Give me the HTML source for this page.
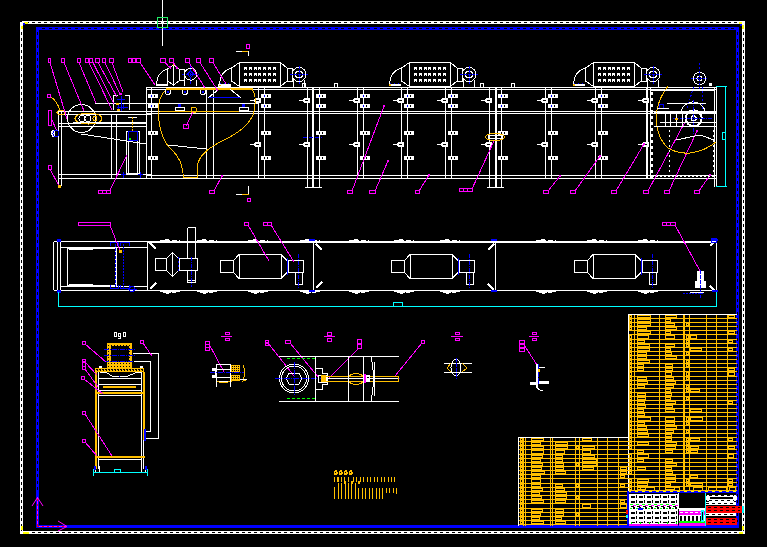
<!DOCTYPE html>
<html><head><meta charset="utf-8"><style>
html,body{margin:0;padding:0;background:#000;width:767px;height:547px;overflow:hidden}
svg{display:block}
</style></head><body>
<svg width="767" height="547" viewBox="0 0 767 547" shape-rendering="crispEdges" font-family="Liberation Sans, sans-serif">
<rect width="767" height="547" fill="#000"/>
<rect x="20" y="22" width="3" height="511" fill="#ffffff"/>
<rect x="22" y="21" width="723" height="3" fill="#ffffff"/>
<rect x="742" y="22" width="3" height="511" fill="#ffffff"/>
<rect x="20" y="531" width="725" height="3" fill="#ffffff"/>
<g stroke="#000" stroke-width="1" stroke-dasharray="3 3">
<line x1="21.5" y1="26" x2="21.5" y2="531" stroke="#000" stroke-width="1" />
<line x1="26" y1="22.5" x2="742" y2="22.5" stroke="#000" stroke-width="1" />
<line x1="743.5" y1="26" x2="743.5" y2="531" stroke="#000" stroke-width="1" />
<line x1="26" y1="532.5" x2="742" y2="532.5" stroke="#000" stroke-width="1" />
</g>
<rect x="36" y="27" width="3" height="500" fill="#0000ff"/>
<rect x="36" y="27" width="703" height="3" fill="#0000ff"/>
<rect x="736" y="27" width="3" height="500" fill="#0000ff"/>
<rect x="36" y="525" width="703" height="3" fill="#0000ff"/>
<g stroke="#000" stroke-width="1" stroke-dasharray="3 3.5">
<line x1="37.5" y1="32" x2="37.5" y2="494" stroke="#000" stroke-width="1" />
<line x1="42" y1="28.5" x2="734" y2="28.5" stroke="#000" stroke-width="1" />
<line x1="737.5" y1="32" x2="737.5" y2="522" stroke="#000" stroke-width="1" />
</g>
<rect x="21" y="26" width="2" height="3" fill="#ffff00"/>
<rect x="24" y="22" width="4" height="2" fill="#ffff00"/>
<rect x="23" y="23" width="2" height="2" fill="#0000ff"/>
<rect x="739" y="22" width="3" height="2" fill="#ffff00"/>
<rect x="742" y="25" width="2" height="4" fill="#ffff00"/>
<rect x="740" y="24" width="2" height="2" fill="#0000ff"/>
<rect x="21" y="526" width="2" height="4" fill="#ffff00"/>
<rect x="23" y="532" width="6" height="2" fill="#ffff00"/>
<rect x="742" y="526" width="2" height="4" fill="#ffff00"/>
<rect x="739" y="532" width="4" height="2" fill="#ffff00"/>
<line x1="37.5" y1="526" x2="37.5" y2="497" stroke="#ff00ff" stroke-width="1" />
<line x1="37.5" y1="526" x2="37.5" y2="497" stroke="#ff0000" stroke-width="1" stroke-dasharray="2 3"/>
<line x1="37" y1="526.5" x2="67" y2="526.5" stroke="#ff00ff" stroke-width="1" />
<line x1="37" y1="526.5" x2="67" y2="526.5" stroke="#ff0000" stroke-width="1" stroke-dasharray="2 3"/>
<g shape-rendering="auto">
<line x1="37.5" y1="497.5" x2="32" y2="506" stroke="#ff00ff" stroke-width="1" />
<line x1="37.5" y1="497.5" x2="43" y2="506" stroke="#ff00ff" stroke-width="1" />
<line x1="67" y1="526.5" x2="58" y2="521" stroke="#ff00ff" stroke-width="1" />
<line x1="67" y1="526.5" x2="58" y2="531" stroke="#ff00ff" stroke-width="1" />
</g>
<line x1="162.5" y1="0" x2="162.5" y2="46" stroke="#ffffff" stroke-width="1" />
<rect x="157.5" y="17.5" width="10" height="10" stroke="#22ee66" fill="none" stroke-width="1" />
<line x1="58" y1="111.5" x2="151" y2="111.5" stroke="#ffffff" stroke-width="1" />
<line x1="58" y1="114.5" x2="151" y2="114.5" stroke="#ffffff" stroke-width="1" />
<line x1="58" y1="123.5" x2="147" y2="123.5" stroke="#ffffff" stroke-width="1" />
<line x1="58" y1="126.5" x2="147" y2="126.5" stroke="#ffffff" stroke-width="1" />
<line x1="58" y1="174.5" x2="151" y2="174.5" stroke="#ffffff" stroke-width="1" />
<line x1="58" y1="178.5" x2="151" y2="178.5" stroke="#ffffff" stroke-width="1" />
<line x1="95" y1="103.5" x2="147" y2="103.5" stroke="#ffffff" stroke-width="1" />
<line x1="146" y1="87.5" x2="717" y2="87.5" stroke="#ffffff" stroke-width="1" />
<line x1="146" y1="89.5" x2="717" y2="89.5" stroke="#ffffff" stroke-width="1" />
<line x1="146" y1="111.5" x2="717" y2="111.5" stroke="#ffffff" stroke-width="1" />
<line x1="146" y1="113.5" x2="717" y2="113.5" stroke="#ffffff" stroke-width="1" />
<line x1="146" y1="175.5" x2="717" y2="175.5" stroke="#ffffff" stroke-width="1" />
<line x1="146" y1="178.5" x2="717" y2="178.5" stroke="#ffffff" stroke-width="1" />
<line x1="146" y1="103.5" x2="259" y2="103.5" stroke="#ffffff" stroke-width="1" />
<line x1="58.5" y1="111" x2="58.5" y2="186" stroke="#ffffff" stroke-width="1" />
<line x1="61.5" y1="111" x2="61.5" y2="186" stroke="#ffffff" stroke-width="1" />
<line x1="111.5" y1="114" x2="111.5" y2="179" stroke="#ffffff" stroke-width="1" />
<line x1="116.5" y1="114" x2="116.5" y2="179" stroke="#ffffff" stroke-width="1" />
<line x1="146.5" y1="87" x2="146.5" y2="179" stroke="#ffffff" stroke-width="1" />
<line x1="151.5" y1="87" x2="151.5" y2="179" stroke="#ffffff" stroke-width="1" />
<line x1="206.5" y1="87" x2="206.5" y2="179" stroke="#ffffff" stroke-width="1" />
<line x1="213.5" y1="87" x2="213.5" y2="179" stroke="#ffffff" stroke-width="1" />
<line x1="258.5" y1="87" x2="258.5" y2="179" stroke="#ffffff" stroke-width="1" />
<line x1="264.5" y1="87" x2="264.5" y2="179" stroke="#ffffff" stroke-width="1" />
<line x1="307.5" y1="87" x2="307.5" y2="179" stroke="#ffffff" stroke-width="1" />
<line x1="312.5" y1="87" x2="312.5" y2="179" stroke="#ffffff" stroke-width="1" />
<line x1="313.5" y1="87" x2="313.5" y2="179" stroke="#ffffff" stroke-width="1" />
<line x1="319.5" y1="87" x2="319.5" y2="179" stroke="#ffffff" stroke-width="1" />
<line x1="357.5" y1="87" x2="357.5" y2="179" stroke="#ffffff" stroke-width="1" />
<line x1="363.5" y1="87" x2="363.5" y2="179" stroke="#ffffff" stroke-width="1" />
<line x1="401.5" y1="87" x2="401.5" y2="179" stroke="#ffffff" stroke-width="1" />
<line x1="407.5" y1="87" x2="407.5" y2="179" stroke="#ffffff" stroke-width="1" />
<line x1="445.5" y1="87" x2="445.5" y2="179" stroke="#ffffff" stroke-width="1" />
<line x1="451.5" y1="87" x2="451.5" y2="179" stroke="#ffffff" stroke-width="1" />
<line x1="489.5" y1="87" x2="489.5" y2="179" stroke="#ffffff" stroke-width="1" />
<line x1="495.5" y1="87" x2="495.5" y2="179" stroke="#ffffff" stroke-width="1" />
<line x1="496.5" y1="87" x2="496.5" y2="179" stroke="#ffffff" stroke-width="1" />
<line x1="501.5" y1="87" x2="501.5" y2="179" stroke="#ffffff" stroke-width="1" />
<line x1="545.5" y1="87" x2="545.5" y2="179" stroke="#ffffff" stroke-width="1" />
<line x1="551.5" y1="87" x2="551.5" y2="179" stroke="#ffffff" stroke-width="1" />
<line x1="595.5" y1="87" x2="595.5" y2="179" stroke="#ffffff" stroke-width="1" />
<line x1="601.5" y1="87" x2="601.5" y2="179" stroke="#ffffff" stroke-width="1" />
<line x1="646.5" y1="87" x2="646.5" y2="179" stroke="#ffffff" stroke-width="1" />
<line x1="650.5" y1="87" x2="650.5" y2="179" stroke="#ffffff" stroke-width="1" />
<line x1="307.5" y1="178" x2="307.5" y2="188" stroke="#ffffff" stroke-width="1" />
<line x1="312.5" y1="178" x2="312.5" y2="188" stroke="#ffffff" stroke-width="1" />
<line x1="313.5" y1="178" x2="313.5" y2="188" stroke="#ffffff" stroke-width="1" />
<line x1="319.5" y1="178" x2="319.5" y2="188" stroke="#ffffff" stroke-width="1" />
<line x1="489.5" y1="178" x2="489.5" y2="188" stroke="#ffffff" stroke-width="1" />
<line x1="495.5" y1="178" x2="495.5" y2="188" stroke="#ffffff" stroke-width="1" />
<line x1="496.5" y1="178" x2="496.5" y2="188" stroke="#ffffff" stroke-width="1" />
<line x1="501.5" y1="178" x2="501.5" y2="188" stroke="#ffffff" stroke-width="1" />
<line x1="305" y1="187.5" x2="322" y2="187.5" stroke="#ffffff" stroke-width="1" />
<line x1="487" y1="187.5" x2="504" y2="187.5" stroke="#ffffff" stroke-width="1" />
<line x1="714.5" y1="87" x2="714.5" y2="187" stroke="#ffffff" stroke-width="1" />
<line x1="716.5" y1="87" x2="716.5" y2="187" stroke="#ffffff" stroke-width="1" />
<line x1="650" y1="178.5" x2="717" y2="178.5" stroke="#ffffff" stroke-width="1" />
<line x1="650" y1="175.5" x2="717" y2="175.5" stroke="#ffffff" stroke-width="1" />
<rect x="148" y="94" width="10" height="4" fill="#ffffff"/>
<rect x="151" y="95" width="1" height="2" fill="#0000ff"/>
<rect x="154" y="95" width="1" height="2" fill="#000"/>
<rect x="148" y="104" width="10" height="4" fill="#ffffff"/>
<rect x="151" y="105" width="1" height="2" fill="#0000ff"/>
<rect x="154" y="105" width="1" height="2" fill="#000"/>
<rect x="148" y="131" width="10" height="4" fill="#ffffff"/>
<rect x="151" y="132" width="1" height="2" fill="#000"/>
<rect x="154" y="132" width="1" height="2" fill="#000"/>
<rect x="148" y="156" width="10" height="4" fill="#ffffff"/>
<rect x="151" y="157" width="1" height="2" fill="#000"/>
<rect x="154" y="157" width="1" height="2" fill="#000"/>
<rect x="261" y="94" width="10" height="4" fill="#ffffff"/>
<rect x="264" y="95" width="1" height="2" fill="#0000ff"/>
<rect x="267" y="95" width="1" height="2" fill="#000"/>
<rect x="261" y="104" width="10" height="4" fill="#ffffff"/>
<rect x="264" y="105" width="1" height="2" fill="#0000ff"/>
<rect x="267" y="105" width="1" height="2" fill="#000"/>
<rect x="261" y="131" width="10" height="4" fill="#ffffff"/>
<rect x="264" y="132" width="1" height="2" fill="#000"/>
<rect x="267" y="132" width="1" height="2" fill="#000"/>
<rect x="261" y="156" width="10" height="4" fill="#ffffff"/>
<rect x="264" y="157" width="1" height="2" fill="#000"/>
<rect x="267" y="157" width="1" height="2" fill="#000"/>
<rect x="316" y="94" width="10" height="4" fill="#ffffff"/>
<rect x="319" y="95" width="1" height="2" fill="#0000ff"/>
<rect x="322" y="95" width="1" height="2" fill="#000"/>
<rect x="316" y="104" width="10" height="4" fill="#ffffff"/>
<rect x="319" y="105" width="1" height="2" fill="#0000ff"/>
<rect x="322" y="105" width="1" height="2" fill="#000"/>
<rect x="316" y="131" width="10" height="4" fill="#ffffff"/>
<rect x="319" y="132" width="1" height="2" fill="#000"/>
<rect x="322" y="132" width="1" height="2" fill="#000"/>
<rect x="316" y="156" width="10" height="4" fill="#ffffff"/>
<rect x="319" y="157" width="1" height="2" fill="#000"/>
<rect x="322" y="157" width="1" height="2" fill="#000"/>
<rect x="360" y="94" width="10" height="4" fill="#ffffff"/>
<rect x="363" y="95" width="1" height="2" fill="#0000ff"/>
<rect x="366" y="95" width="1" height="2" fill="#000"/>
<rect x="360" y="104" width="10" height="4" fill="#ffffff"/>
<rect x="363" y="105" width="1" height="2" fill="#0000ff"/>
<rect x="366" y="105" width="1" height="2" fill="#000"/>
<rect x="360" y="131" width="10" height="4" fill="#ffffff"/>
<rect x="363" y="132" width="1" height="2" fill="#000"/>
<rect x="366" y="132" width="1" height="2" fill="#000"/>
<rect x="360" y="156" width="10" height="4" fill="#ffffff"/>
<rect x="363" y="157" width="1" height="2" fill="#000"/>
<rect x="366" y="157" width="1" height="2" fill="#000"/>
<rect x="404" y="94" width="10" height="4" fill="#ffffff"/>
<rect x="407" y="95" width="1" height="2" fill="#0000ff"/>
<rect x="410" y="95" width="1" height="2" fill="#000"/>
<rect x="404" y="104" width="10" height="4" fill="#ffffff"/>
<rect x="407" y="105" width="1" height="2" fill="#0000ff"/>
<rect x="410" y="105" width="1" height="2" fill="#000"/>
<rect x="404" y="131" width="10" height="4" fill="#ffffff"/>
<rect x="407" y="132" width="1" height="2" fill="#000"/>
<rect x="410" y="132" width="1" height="2" fill="#000"/>
<rect x="404" y="156" width="10" height="4" fill="#ffffff"/>
<rect x="407" y="157" width="1" height="2" fill="#000"/>
<rect x="410" y="157" width="1" height="2" fill="#000"/>
<rect x="448" y="94" width="10" height="4" fill="#ffffff"/>
<rect x="451" y="95" width="1" height="2" fill="#0000ff"/>
<rect x="454" y="95" width="1" height="2" fill="#000"/>
<rect x="448" y="104" width="10" height="4" fill="#ffffff"/>
<rect x="451" y="105" width="1" height="2" fill="#0000ff"/>
<rect x="454" y="105" width="1" height="2" fill="#000"/>
<rect x="448" y="131" width="10" height="4" fill="#ffffff"/>
<rect x="451" y="132" width="1" height="2" fill="#000"/>
<rect x="454" y="132" width="1" height="2" fill="#000"/>
<rect x="448" y="156" width="10" height="4" fill="#ffffff"/>
<rect x="451" y="157" width="1" height="2" fill="#000"/>
<rect x="454" y="157" width="1" height="2" fill="#000"/>
<rect x="498" y="94" width="10" height="4" fill="#ffffff"/>
<rect x="501" y="95" width="1" height="2" fill="#0000ff"/>
<rect x="504" y="95" width="1" height="2" fill="#000"/>
<rect x="498" y="104" width="10" height="4" fill="#ffffff"/>
<rect x="501" y="105" width="1" height="2" fill="#0000ff"/>
<rect x="504" y="105" width="1" height="2" fill="#000"/>
<rect x="498" y="131" width="10" height="4" fill="#ffffff"/>
<rect x="501" y="132" width="1" height="2" fill="#000"/>
<rect x="504" y="132" width="1" height="2" fill="#000"/>
<rect x="498" y="156" width="10" height="4" fill="#ffffff"/>
<rect x="501" y="157" width="1" height="2" fill="#000"/>
<rect x="504" y="157" width="1" height="2" fill="#000"/>
<rect x="548" y="94" width="10" height="4" fill="#ffffff"/>
<rect x="551" y="95" width="1" height="2" fill="#0000ff"/>
<rect x="554" y="95" width="1" height="2" fill="#000"/>
<rect x="548" y="104" width="10" height="4" fill="#ffffff"/>
<rect x="551" y="105" width="1" height="2" fill="#0000ff"/>
<rect x="554" y="105" width="1" height="2" fill="#000"/>
<rect x="548" y="131" width="10" height="4" fill="#ffffff"/>
<rect x="551" y="132" width="1" height="2" fill="#000"/>
<rect x="554" y="132" width="1" height="2" fill="#000"/>
<rect x="548" y="156" width="10" height="4" fill="#ffffff"/>
<rect x="551" y="157" width="1" height="2" fill="#000"/>
<rect x="554" y="157" width="1" height="2" fill="#000"/>
<rect x="598" y="94" width="10" height="4" fill="#ffffff"/>
<rect x="601" y="95" width="1" height="2" fill="#0000ff"/>
<rect x="604" y="95" width="1" height="2" fill="#000"/>
<rect x="598" y="104" width="10" height="4" fill="#ffffff"/>
<rect x="601" y="105" width="1" height="2" fill="#0000ff"/>
<rect x="604" y="105" width="1" height="2" fill="#000"/>
<rect x="598" y="131" width="10" height="4" fill="#ffffff"/>
<rect x="601" y="132" width="1" height="2" fill="#000"/>
<rect x="604" y="132" width="1" height="2" fill="#000"/>
<rect x="598" y="156" width="10" height="4" fill="#ffffff"/>
<rect x="601" y="157" width="1" height="2" fill="#000"/>
<rect x="604" y="157" width="1" height="2" fill="#000"/>
<rect x="250" y="100" width="4" height="1" fill="#ffffff"/>
<rect x="254" y="99" width="1" height="3" fill="#ffffff"/>
<rect x="255" y="98" width="6" height="5" fill="#ffffff"/>
<rect x="256" y="100" width="3" height="1" fill="#000"/>
<rect x="250" y="144" width="4" height="1" fill="#ffffff"/>
<rect x="254" y="143" width="1" height="3" fill="#ffffff"/>
<rect x="255" y="142" width="6" height="5" fill="#ffffff"/>
<rect x="256" y="144" width="3" height="1" fill="#000"/>
<rect x="299" y="100" width="4" height="1" fill="#ffffff"/>
<rect x="303" y="99" width="1" height="3" fill="#ffffff"/>
<rect x="304" y="98" width="6" height="5" fill="#ffffff"/>
<rect x="305" y="100" width="3" height="1" fill="#000"/>
<rect x="299" y="144" width="4" height="1" fill="#ffffff"/>
<rect x="303" y="143" width="1" height="3" fill="#ffffff"/>
<rect x="304" y="142" width="6" height="5" fill="#ffffff"/>
<rect x="305" y="144" width="3" height="1" fill="#000"/>
<rect x="349" y="100" width="4" height="1" fill="#ffffff"/>
<rect x="353" y="99" width="1" height="3" fill="#ffffff"/>
<rect x="354" y="98" width="6" height="5" fill="#ffffff"/>
<rect x="355" y="100" width="3" height="1" fill="#000"/>
<rect x="349" y="144" width="4" height="1" fill="#ffffff"/>
<rect x="353" y="143" width="1" height="3" fill="#ffffff"/>
<rect x="354" y="142" width="6" height="5" fill="#ffffff"/>
<rect x="355" y="144" width="3" height="1" fill="#000"/>
<rect x="393" y="100" width="4" height="1" fill="#ffffff"/>
<rect x="397" y="99" width="1" height="3" fill="#ffffff"/>
<rect x="398" y="98" width="6" height="5" fill="#ffffff"/>
<rect x="399" y="100" width="3" height="1" fill="#000"/>
<rect x="393" y="144" width="4" height="1" fill="#ffffff"/>
<rect x="397" y="143" width="1" height="3" fill="#ffffff"/>
<rect x="398" y="142" width="6" height="5" fill="#ffffff"/>
<rect x="399" y="144" width="3" height="1" fill="#000"/>
<rect x="437" y="100" width="4" height="1" fill="#ffffff"/>
<rect x="441" y="99" width="1" height="3" fill="#ffffff"/>
<rect x="442" y="98" width="6" height="5" fill="#ffffff"/>
<rect x="443" y="100" width="3" height="1" fill="#000"/>
<rect x="437" y="144" width="4" height="1" fill="#ffffff"/>
<rect x="441" y="143" width="1" height="3" fill="#ffffff"/>
<rect x="442" y="142" width="6" height="5" fill="#ffffff"/>
<rect x="443" y="144" width="3" height="1" fill="#000"/>
<rect x="481" y="100" width="4" height="1" fill="#ffffff"/>
<rect x="485" y="99" width="1" height="3" fill="#ffffff"/>
<rect x="486" y="98" width="6" height="5" fill="#ffffff"/>
<rect x="487" y="100" width="3" height="1" fill="#000"/>
<rect x="481" y="144" width="4" height="1" fill="#ffffff"/>
<rect x="485" y="143" width="1" height="3" fill="#ffffff"/>
<rect x="486" y="142" width="6" height="5" fill="#ffffff"/>
<rect x="487" y="144" width="3" height="1" fill="#000"/>
<rect x="537" y="100" width="4" height="1" fill="#ffffff"/>
<rect x="541" y="99" width="1" height="3" fill="#ffffff"/>
<rect x="542" y="98" width="6" height="5" fill="#ffffff"/>
<rect x="543" y="100" width="3" height="1" fill="#000"/>
<rect x="537" y="144" width="4" height="1" fill="#ffffff"/>
<rect x="541" y="143" width="1" height="3" fill="#ffffff"/>
<rect x="542" y="142" width="6" height="5" fill="#ffffff"/>
<rect x="543" y="144" width="3" height="1" fill="#000"/>
<rect x="587" y="100" width="4" height="1" fill="#ffffff"/>
<rect x="591" y="99" width="1" height="3" fill="#ffffff"/>
<rect x="592" y="98" width="6" height="5" fill="#ffffff"/>
<rect x="593" y="100" width="3" height="1" fill="#000"/>
<rect x="587" y="144" width="4" height="1" fill="#ffffff"/>
<rect x="591" y="143" width="1" height="3" fill="#ffffff"/>
<rect x="592" y="142" width="6" height="5" fill="#ffffff"/>
<rect x="593" y="144" width="3" height="1" fill="#000"/>
<rect x="638" y="100" width="4" height="1" fill="#ffffff"/>
<rect x="642" y="99" width="1" height="3" fill="#ffffff"/>
<rect x="643" y="98" width="6" height="5" fill="#ffffff"/>
<rect x="644" y="100" width="3" height="1" fill="#000"/>
<rect x="638" y="144" width="4" height="1" fill="#ffffff"/>
<rect x="642" y="143" width="1" height="3" fill="#ffffff"/>
<rect x="643" y="142" width="6" height="5" fill="#ffffff"/>
<rect x="644" y="144" width="3" height="1" fill="#000"/>
<line x1="303" y1="137.5" x2="322" y2="137.5" stroke="#0000ff" stroke-width="1" stroke-dasharray="4 2"/>
<rect x="239.5" y="62.5" width="41" height="24" stroke="#ffffff" fill="none" stroke-width="1" />
<path d="M239.5,62.5 L231.5,68 L231.5,81 L239.5,86.5" stroke="#ffffff" fill="none" stroke-width="1" />
<path d="M231.5,68.5 Q221,70 219.5,84" stroke="#ffffff" fill="none" stroke-width="1" />
<rect x="219" y="84" width="12" height="2" fill="#ffffff"/>
<rect x="220" y="83" width="1" height="1" fill="#0000ff"/>
<rect x="224" y="83" width="1" height="1" fill="#0000ff"/>
<rect x="228" y="83" width="1" height="1" fill="#0000ff"/>
<rect x="219" y="84" width="2" height="2" fill="#ffbf00"/>
<path d="M280.5,62.5 L287,68 L287,81 L280.5,86.5" stroke="#ffffff" fill="none" stroke-width="1" />
<rect x="287.5" y="68.5" width="5" height="13" stroke="#ffffff" fill="none" stroke-width="1" />
<circle cx="299" cy="74.5" r="7" stroke="#ffffff" fill="none" stroke-width="1" />
<circle cx="299" cy="74.5" r="3.5" stroke="#ffffff" fill="none" stroke-width="1" />
<line x1="290" y1="74.5" x2="308" y2="74.5" stroke="#0000ff" stroke-width="1" stroke-dasharray="3 1"/>
<line x1="299" y1="65.5" x2="299" y2="83.5" stroke="#0000ff" stroke-width="1" stroke-dasharray="3 1"/>
<path d="M294,79.5 L293,87 M304,79.5 L305,87" stroke="#ffffff" fill="none" stroke-width="1" />
<rect x="244" y="67" width="3" height="3" fill="#ffffff"/>
<rect x="245" y="69" width="1" height="1" fill="#000"/>
<rect x="249" y="67" width="3" height="3" fill="#ffffff"/>
<rect x="250" y="69" width="1" height="1" fill="#000"/>
<rect x="254" y="67" width="3" height="3" fill="#ffffff"/>
<rect x="255" y="69" width="1" height="1" fill="#000"/>
<rect x="258" y="67" width="3" height="3" fill="#ffffff"/>
<rect x="259" y="69" width="1" height="1" fill="#000"/>
<rect x="263" y="67" width="3" height="3" fill="#ffffff"/>
<rect x="264" y="69" width="1" height="1" fill="#000"/>
<rect x="268" y="67" width="3" height="3" fill="#ffffff"/>
<rect x="269" y="69" width="1" height="1" fill="#000"/>
<rect x="273" y="67" width="3" height="3" fill="#ffffff"/>
<rect x="274" y="69" width="1" height="1" fill="#000"/>
<rect x="244" y="73" width="3" height="3" fill="#ffffff"/>
<rect x="245" y="75" width="1" height="1" fill="#000"/>
<rect x="249" y="73" width="3" height="3" fill="#ffffff"/>
<rect x="250" y="75" width="1" height="1" fill="#000"/>
<rect x="254" y="73" width="3" height="3" fill="#ffffff"/>
<rect x="255" y="75" width="1" height="1" fill="#000"/>
<rect x="258" y="73" width="3" height="3" fill="#ffffff"/>
<rect x="259" y="75" width="1" height="1" fill="#000"/>
<rect x="263" y="73" width="3" height="3" fill="#ffffff"/>
<rect x="264" y="75" width="1" height="1" fill="#000"/>
<rect x="268" y="73" width="3" height="3" fill="#ffffff"/>
<rect x="269" y="75" width="1" height="1" fill="#000"/>
<rect x="273" y="73" width="3" height="3" fill="#ffffff"/>
<rect x="274" y="75" width="1" height="1" fill="#000"/>
<rect x="244" y="79" width="3" height="3" fill="#ffffff"/>
<rect x="245" y="81" width="1" height="1" fill="#000"/>
<rect x="249" y="79" width="3" height="3" fill="#ffffff"/>
<rect x="250" y="81" width="1" height="1" fill="#000"/>
<rect x="254" y="79" width="3" height="3" fill="#ffffff"/>
<rect x="255" y="81" width="1" height="1" fill="#000"/>
<rect x="258" y="79" width="3" height="3" fill="#ffffff"/>
<rect x="259" y="81" width="1" height="1" fill="#000"/>
<rect x="263" y="79" width="3" height="3" fill="#ffffff"/>
<rect x="264" y="81" width="1" height="1" fill="#000"/>
<rect x="268" y="79" width="3" height="3" fill="#ffffff"/>
<rect x="269" y="81" width="1" height="1" fill="#000"/>
<rect x="273" y="79" width="3" height="3" fill="#ffffff"/>
<rect x="274" y="81" width="1" height="1" fill="#000"/>
<rect x="409.5" y="62.5" width="41" height="24" stroke="#ffffff" fill="none" stroke-width="1" />
<path d="M409.5,62.5 L401.5,68 L401.5,81 L409.5,86.5" stroke="#ffffff" fill="none" stroke-width="1" />
<path d="M401.5,68.5 Q391,70 389.5,84" stroke="#ffffff" fill="none" stroke-width="1" />
<rect x="389" y="84" width="12" height="2" fill="#ffffff"/>
<rect x="390" y="83" width="1" height="1" fill="#0000ff"/>
<rect x="394" y="83" width="1" height="1" fill="#0000ff"/>
<rect x="398" y="83" width="1" height="1" fill="#0000ff"/>
<rect x="389" y="84" width="2" height="2" fill="#ffbf00"/>
<path d="M450.5,62.5 L457,68 L457,81 L450.5,86.5" stroke="#ffffff" fill="none" stroke-width="1" />
<rect x="457.5" y="68.5" width="5" height="13" stroke="#ffffff" fill="none" stroke-width="1" />
<circle cx="469" cy="74.5" r="7" stroke="#ffffff" fill="none" stroke-width="1" />
<circle cx="469" cy="74.5" r="3.5" stroke="#ffffff" fill="none" stroke-width="1" />
<line x1="460" y1="74.5" x2="478" y2="74.5" stroke="#0000ff" stroke-width="1" stroke-dasharray="3 1"/>
<line x1="469" y1="65.5" x2="469" y2="83.5" stroke="#0000ff" stroke-width="1" stroke-dasharray="3 1"/>
<path d="M464,79.5 L463,87 M474,79.5 L475,87" stroke="#ffffff" fill="none" stroke-width="1" />
<rect x="414" y="67" width="3" height="3" fill="#ffffff"/>
<rect x="415" y="69" width="1" height="1" fill="#000"/>
<rect x="419" y="67" width="3" height="3" fill="#ffffff"/>
<rect x="420" y="69" width="1" height="1" fill="#000"/>
<rect x="424" y="67" width="3" height="3" fill="#ffffff"/>
<rect x="425" y="69" width="1" height="1" fill="#000"/>
<rect x="428" y="67" width="3" height="3" fill="#ffffff"/>
<rect x="429" y="69" width="1" height="1" fill="#000"/>
<rect x="433" y="67" width="3" height="3" fill="#ffffff"/>
<rect x="434" y="69" width="1" height="1" fill="#000"/>
<rect x="438" y="67" width="3" height="3" fill="#ffffff"/>
<rect x="439" y="69" width="1" height="1" fill="#000"/>
<rect x="443" y="67" width="3" height="3" fill="#ffffff"/>
<rect x="444" y="69" width="1" height="1" fill="#000"/>
<rect x="414" y="73" width="3" height="3" fill="#ffffff"/>
<rect x="415" y="75" width="1" height="1" fill="#000"/>
<rect x="419" y="73" width="3" height="3" fill="#ffffff"/>
<rect x="420" y="75" width="1" height="1" fill="#000"/>
<rect x="424" y="73" width="3" height="3" fill="#ffffff"/>
<rect x="425" y="75" width="1" height="1" fill="#000"/>
<rect x="428" y="73" width="3" height="3" fill="#ffffff"/>
<rect x="429" y="75" width="1" height="1" fill="#000"/>
<rect x="433" y="73" width="3" height="3" fill="#ffffff"/>
<rect x="434" y="75" width="1" height="1" fill="#000"/>
<rect x="438" y="73" width="3" height="3" fill="#ffffff"/>
<rect x="439" y="75" width="1" height="1" fill="#000"/>
<rect x="443" y="73" width="3" height="3" fill="#ffffff"/>
<rect x="444" y="75" width="1" height="1" fill="#000"/>
<rect x="414" y="79" width="3" height="3" fill="#ffffff"/>
<rect x="415" y="81" width="1" height="1" fill="#000"/>
<rect x="419" y="79" width="3" height="3" fill="#ffffff"/>
<rect x="420" y="81" width="1" height="1" fill="#000"/>
<rect x="424" y="79" width="3" height="3" fill="#ffffff"/>
<rect x="425" y="81" width="1" height="1" fill="#000"/>
<rect x="428" y="79" width="3" height="3" fill="#ffffff"/>
<rect x="429" y="81" width="1" height="1" fill="#000"/>
<rect x="433" y="79" width="3" height="3" fill="#ffffff"/>
<rect x="434" y="81" width="1" height="1" fill="#000"/>
<rect x="438" y="79" width="3" height="3" fill="#ffffff"/>
<rect x="439" y="81" width="1" height="1" fill="#000"/>
<rect x="443" y="79" width="3" height="3" fill="#ffffff"/>
<rect x="444" y="81" width="1" height="1" fill="#000"/>
<rect x="593.5" y="62.5" width="41" height="24" stroke="#ffffff" fill="none" stroke-width="1" />
<path d="M593.5,62.5 L585.5,68 L585.5,81 L593.5,86.5" stroke="#ffffff" fill="none" stroke-width="1" />
<path d="M585.5,68.5 Q575,70 573.5,84" stroke="#ffffff" fill="none" stroke-width="1" />
<rect x="573" y="84" width="12" height="2" fill="#ffffff"/>
<rect x="574" y="83" width="1" height="1" fill="#0000ff"/>
<rect x="578" y="83" width="1" height="1" fill="#0000ff"/>
<rect x="582" y="83" width="1" height="1" fill="#0000ff"/>
<rect x="573" y="84" width="2" height="2" fill="#ffbf00"/>
<path d="M634.5,62.5 L641,68 L641,81 L634.5,86.5" stroke="#ffffff" fill="none" stroke-width="1" />
<rect x="641.5" y="68.5" width="5" height="13" stroke="#ffffff" fill="none" stroke-width="1" />
<circle cx="653" cy="74.5" r="7" stroke="#ffffff" fill="none" stroke-width="1" />
<circle cx="653" cy="74.5" r="3.5" stroke="#ffffff" fill="none" stroke-width="1" />
<line x1="644" y1="74.5" x2="662" y2="74.5" stroke="#0000ff" stroke-width="1" stroke-dasharray="3 1"/>
<line x1="653" y1="65.5" x2="653" y2="83.5" stroke="#0000ff" stroke-width="1" stroke-dasharray="3 1"/>
<path d="M648,79.5 L647,87 M658,79.5 L659,87" stroke="#ffffff" fill="none" stroke-width="1" />
<rect x="598" y="67" width="3" height="3" fill="#ffffff"/>
<rect x="599" y="69" width="1" height="1" fill="#000"/>
<rect x="603" y="67" width="3" height="3" fill="#ffffff"/>
<rect x="604" y="69" width="1" height="1" fill="#000"/>
<rect x="608" y="67" width="3" height="3" fill="#ffffff"/>
<rect x="609" y="69" width="1" height="1" fill="#000"/>
<rect x="612" y="67" width="3" height="3" fill="#ffffff"/>
<rect x="613" y="69" width="1" height="1" fill="#000"/>
<rect x="617" y="67" width="3" height="3" fill="#ffffff"/>
<rect x="618" y="69" width="1" height="1" fill="#000"/>
<rect x="622" y="67" width="3" height="3" fill="#ffffff"/>
<rect x="623" y="69" width="1" height="1" fill="#000"/>
<rect x="627" y="67" width="3" height="3" fill="#ffffff"/>
<rect x="628" y="69" width="1" height="1" fill="#000"/>
<rect x="598" y="73" width="3" height="3" fill="#ffffff"/>
<rect x="599" y="75" width="1" height="1" fill="#000"/>
<rect x="603" y="73" width="3" height="3" fill="#ffffff"/>
<rect x="604" y="75" width="1" height="1" fill="#000"/>
<rect x="608" y="73" width="3" height="3" fill="#ffffff"/>
<rect x="609" y="75" width="1" height="1" fill="#000"/>
<rect x="612" y="73" width="3" height="3" fill="#ffffff"/>
<rect x="613" y="75" width="1" height="1" fill="#000"/>
<rect x="617" y="73" width="3" height="3" fill="#ffffff"/>
<rect x="618" y="75" width="1" height="1" fill="#000"/>
<rect x="622" y="73" width="3" height="3" fill="#ffffff"/>
<rect x="623" y="75" width="1" height="1" fill="#000"/>
<rect x="627" y="73" width="3" height="3" fill="#ffffff"/>
<rect x="628" y="75" width="1" height="1" fill="#000"/>
<rect x="598" y="79" width="3" height="3" fill="#ffffff"/>
<rect x="599" y="81" width="1" height="1" fill="#000"/>
<rect x="603" y="79" width="3" height="3" fill="#ffffff"/>
<rect x="604" y="81" width="1" height="1" fill="#000"/>
<rect x="608" y="79" width="3" height="3" fill="#ffffff"/>
<rect x="609" y="81" width="1" height="1" fill="#000"/>
<rect x="612" y="79" width="3" height="3" fill="#ffffff"/>
<rect x="613" y="81" width="1" height="1" fill="#000"/>
<rect x="617" y="79" width="3" height="3" fill="#ffffff"/>
<rect x="618" y="81" width="1" height="1" fill="#000"/>
<rect x="622" y="79" width="3" height="3" fill="#ffffff"/>
<rect x="623" y="81" width="1" height="1" fill="#000"/>
<rect x="627" y="79" width="3" height="3" fill="#ffffff"/>
<rect x="628" y="81" width="1" height="1" fill="#000"/>
<circle cx="190.6" cy="74.2" r="6" stroke="#ffffff" fill="none" stroke-width="1" />
<path d="M190.6,71 L193.8,74.2 L190.6,77.4 L187.4,74.2 Z" stroke="#0000ff" fill="none" stroke-width="1" />
<line x1="182" y1="74.5" x2="199" y2="74.5" stroke="#0000ff" stroke-width="1" stroke-dasharray="3 1"/>
<line x1="190.5" y1="65" x2="190.5" y2="84" stroke="#0000ff" stroke-width="1" stroke-dasharray="3 1"/>
<rect x="179.5" y="69.5" width="5" height="11" stroke="#ffffff" fill="none" stroke-width="1" />
<path d="M156.5,84 Q157,73 166,69.5 L167.8,69" stroke="#ffffff" fill="none" stroke-width="1" />
<line x1="167.5" y1="69" x2="167.5" y2="85" stroke="#ffffff" stroke-width="1" />
<path d="M167.5,69 L173.3,65 L178.8,69 M167.5,81 L173.3,85 L178.8,81" stroke="#ffffff" fill="none" stroke-width="1" />
<line x1="173.5" y1="64" x2="173.5" y2="86" stroke="#ffffff" stroke-width="1" />
<rect x="173" y="63" width="1" height="3" fill="#ffbf00"/>
<rect x="156" y="84" width="12" height="2" fill="#ffffff"/>
<path d="M184,80 L184.5,86 M196,80 L196.5,86" stroke="#ffffff" fill="none" stroke-width="1" />
<rect x="169" y="66" width="2" height="2" fill="#ff00ff"/>
<rect x="176" y="67" width="2" height="2" fill="#ff00ff"/>
<path d="M302,87 l1,-4 l2,0 l1,4" stroke="#ffffff" fill="none" stroke-width="1" />
<path d="M334,87 l1,-4 l2,0 l1,4" stroke="#ffffff" fill="none" stroke-width="1" />
<path d="M480,87 l1,-4 l2,0 l1,4" stroke="#ffffff" fill="none" stroke-width="1" />
<path d="M511,87 l1,-4 l2,0 l1,4" stroke="#ffffff" fill="none" stroke-width="1" />
<rect x="166" y="88" width="87" height="2" fill="#ffbf00"/>
<path d="M167,89 Q158,96 158,112 Q160,140 172,150 Q183,160 183.5,178" stroke="#ffbf00" fill="none" stroke-width="1" />
<path d="M252,89 Q258,98 253,115 Q246,130 222,141 Q200,152 197.5,165 L197.5,178" stroke="#ffbf00" fill="none" stroke-width="1" />
<line x1="183" y1="177.5" x2="198" y2="177.5" stroke="#ffbf00" stroke-width="1" />
<line x1="160" y1="111.5" x2="239" y2="111.5" stroke="#ffbf00" stroke-width="1" />
<path d="M168,145 L206,149" stroke="#ffffff" fill="none" stroke-width="1" />
<path d="M218.5,89.5 L208.5,97.5 M230.5,89.5 L240.5,97.5" stroke="#ffffff" fill="none" stroke-width="1" />
<line x1="209" y1="97.5" x2="241" y2="97.5" stroke="#0000ff" stroke-width="1" />
<rect x="208" y="97" width="1" height="1" fill="#ffffff"/>
<rect x="240" y="97" width="1" height="1" fill="#ffffff"/>
<rect x="218.5" y="84.5" width="12" height="2" stroke="#ffffff" fill="none" stroke-width="1" />
<path d="M165.5,90 L165.5,92 Q165.5,94.5 168,94.5 Q170.5,94.5 170.5,92 L170.5,90" stroke="#ffffff" fill="none" stroke-width="1" />
<rect x="167" y="91" width="2" height="2" fill="#0000ff"/>
<path d="M182.5,90 L182.5,92 Q182.5,94.5 185,94.5 Q187.5,94.5 187.5,92 L187.5,90" stroke="#ffffff" fill="none" stroke-width="1" />
<rect x="184" y="91" width="2" height="2" fill="#0000ff"/>
<path d="M200.5,90 L200.5,92 Q200.5,94.5 203,94.5 Q205.5,94.5 205.5,92 L205.5,90" stroke="#ffffff" fill="none" stroke-width="1" />
<rect x="202" y="91" width="2" height="2" fill="#0000ff"/>
<rect x="175.5" y="107.5" width="9" height="3" stroke="#ffffff" fill="none" stroke-width="1" />
<rect x="178" y="104" width="3" height="3" fill="#0000ff"/>
<rect x="239.5" y="107.5" width="9" height="3" stroke="#ffffff" fill="none" stroke-width="1" />
<rect x="242" y="104" width="3" height="3" fill="#0000ff"/>
<circle cx="193.8" cy="110" r="2.8" stroke="#ffbf00" fill="none" stroke-width="1" />
<line x1="193" y1="112" x2="186" y2="126" stroke="#ff00ff" stroke-width="1" />
<rect x="183.5" y="124.5" width="5" height="4" stroke="#ff00ff" fill="none" stroke-width="1" />
<circle cx="81.5" cy="118.5" r="14" stroke="#ffffff" fill="none" stroke-width="1" />
<ellipse cx="88.5" cy="118.5" rx="13.5" ry="5.5" stroke="#ffbf00" fill="none"/>
<circle cx="82" cy="118.5" r="3" stroke="#ffffff" fill="none" stroke-width="1" />
<circle cx="88" cy="118.5" r="3" stroke="#ffffff" fill="none" stroke-width="1" />
<circle cx="95" cy="118.5" r="2" stroke="#ffbf00" fill="none" stroke-width="1" />
<line x1="81" y1="134" x2="146" y2="144" stroke="#ffffff" stroke-width="1" />
<line x1="73" y1="122.5" x2="147" y2="122.5" stroke="#ffffff" stroke-width="1" />
<path d="M113.5,110 L113.5,96 L118,95.5 M125,95.5 L129.5,96 L129.5,110" stroke="#ffffff" fill="none" stroke-width="1" />
<line x1="117" y1="99" x2="125" y2="99" stroke="#0000ff" stroke-width="1" />
<line x1="121.5" y1="96" x2="121.5" y2="111" stroke="#0000ff" stroke-width="1" />
<line x1="117" y1="107.5" x2="128" y2="107.5" stroke="#0000ff" stroke-width="1" />
<line x1="118.5" y1="104" x2="118.5" y2="109" stroke="#0000ff" stroke-width="1" />
<line x1="123.5" y1="104" x2="123.5" y2="109" stroke="#0000ff" stroke-width="1" />
<rect x="116" y="103" width="3" height="2" fill="#ffbf00"/>
<rect x="117" y="109" width="3" height="2" fill="#ffbf00"/>
<rect x="119" y="93" width="3" height="2" fill="#ff00ff"/>
<rect x="126.5" y="131.5" width="13" height="42" stroke="#ffffff" fill="none" stroke-width="1" />
<line x1="128.5" y1="131" x2="128.5" y2="174" stroke="#ffffff" stroke-width="1" />
<line x1="137.5" y1="131" x2="137.5" y2="174" stroke="#ffffff" stroke-width="1" />
<line x1="128" y1="117.5" x2="137" y2="117.5" stroke="#ffffff" stroke-width="1" />
<line x1="132.5" y1="117" x2="132.5" y2="132" stroke="#ffbf00" stroke-width="1" stroke-dasharray="2 1"/>
<rect x="128.5" y="131.5" width="9" height="9" stroke="#0000ff" fill="none" stroke-width="1" />
<rect x="129" y="138" width="2" height="2" fill="#00ff00"/>
<line x1="123.5" y1="172" x2="123.5" y2="178" stroke="#0000ff" stroke-width="1" />
<line x1="121" y1="174.5" x2="126" y2="174.5" stroke="#0000ff" stroke-width="1" />
<line x1="140.5" y1="172" x2="140.5" y2="178" stroke="#0000ff" stroke-width="1" />
<line x1="138" y1="174.5" x2="143" y2="174.5" stroke="#0000ff" stroke-width="1" />
<path d="M50,96 Q58,102 60,111" stroke="#ffbf00" fill="none" stroke-width="1" />
<ellipse cx="61" cy="112.5" rx="4" ry="2.2" stroke="#ffbf00" fill="none"/>
<rect x="47.5" y="94.5" width="3" height="3" stroke="#ff00ff" fill="none" stroke-width="1" />
<rect x="48.5" y="110.5" width="3" height="15" stroke="#ff00ff" fill="none" stroke-width="1" />
<line x1="51" y1="118" x2="57" y2="131" stroke="#ff00ff" stroke-width="1" />
<path d="M55,130 a3.5,3.5 0 0 0 0,7" stroke="#ffffff" fill="#ffffff" stroke-width="1" />
<circle cx="56" cy="133.5" r="3" stroke="#0000ff" fill="none" stroke-width="1" />
<rect x="48.5" y="58.5" width="2" height="4" stroke="#ff00ff" fill="none" stroke-width="1" />
<rect x="61.5" y="58.5" width="3" height="4" stroke="#ff00ff" fill="none" stroke-width="1" />
<rect x="77.5" y="58.5" width="3" height="4" stroke="#ff00ff" fill="none" stroke-width="1" />
<rect x="85.5" y="58.5" width="3" height="4" stroke="#ff00ff" fill="none" stroke-width="1" />
<rect x="89.5" y="58.5" width="3" height="4" stroke="#ff00ff" fill="none" stroke-width="1" />
<rect x="95.5" y="58.5" width="4" height="4" stroke="#ff00ff" fill="none" stroke-width="1" />
<rect x="102.5" y="58.5" width="3" height="4" stroke="#ff00ff" fill="none" stroke-width="1" />
<rect x="109.5" y="58.5" width="4" height="4" stroke="#ff00ff" fill="none" stroke-width="1" />
<rect x="128.5" y="58.5" width="3" height="4" stroke="#ff00ff" fill="none" stroke-width="1" />
<rect x="132.5" y="58.5" width="3" height="4" stroke="#ff00ff" fill="none" stroke-width="1" />
<rect x="136.5" y="58.5" width="4" height="4" stroke="#ff00ff" fill="none" stroke-width="1" />
<rect x="160.5" y="58.5" width="5" height="4" stroke="#ff00ff" fill="none" stroke-width="1" />
<rect x="169.5" y="58.5" width="4" height="4" stroke="#ff00ff" fill="none" stroke-width="1" />
<rect x="185.5" y="58.5" width="4" height="4" stroke="#ff00ff" fill="none" stroke-width="1" />
<rect x="196.5" y="58.5" width="4" height="4" stroke="#ff00ff" fill="none" stroke-width="1" />
<rect x="209.5" y="58.5" width="4" height="4" stroke="#ff00ff" fill="none" stroke-width="1" />
<line x1="50" y1="62.5" x2="67" y2="119" stroke="#ff00ff" stroke-width="1" />
<line x1="64" y1="62.5" x2="84" y2="111" stroke="#ff00ff" stroke-width="1" />
<line x1="79" y1="62.5" x2="96" y2="103" stroke="#ff00ff" stroke-width="1" />
<line x1="89" y1="62.5" x2="112" y2="110" stroke="#ff00ff" stroke-width="1" />
<line x1="93" y1="62.5" x2="114" y2="104" stroke="#ff00ff" stroke-width="1" />
<line x1="98" y1="62.5" x2="117" y2="97" stroke="#ff00ff" stroke-width="1" />
<line x1="105" y1="62.5" x2="120" y2="94" stroke="#ff00ff" stroke-width="1" />
<line x1="112" y1="62.5" x2="123" y2="92" stroke="#ff00ff" stroke-width="1" />
<line x1="140" y1="62.5" x2="155" y2="85" stroke="#ff00ff" stroke-width="1" />
<line x1="165" y1="62.5" x2="171" y2="69" stroke="#ff00ff" stroke-width="1" />
<line x1="173" y1="62.5" x2="178" y2="68" stroke="#ff00ff" stroke-width="1" />
<line x1="189" y1="62.5" x2="205" y2="88" stroke="#ff00ff" stroke-width="1" />
<line x1="200" y1="62.5" x2="218" y2="91" stroke="#ff00ff" stroke-width="1" />
<line x1="213" y1="62.5" x2="226" y2="84" stroke="#ff00ff" stroke-width="1" />
<rect x="48.5" y="165.5" width="3" height="4" stroke="#ff00ff" fill="none" stroke-width="1" />
<line x1="50" y1="169" x2="59" y2="186" stroke="#ff00ff" stroke-width="1" />
<rect x="58" y="185" width="3" height="3" fill="#ffbf00"/>
<rect x="98.5" y="190.5" width="4" height="3" stroke="#ff00ff" fill="none" stroke-width="1" />
<rect x="102.5" y="190.5" width="4" height="3" stroke="#ff00ff" fill="none" stroke-width="1" />
<rect x="106.5" y="190.5" width="4" height="3" stroke="#ff00ff" fill="none" stroke-width="1" />
<line x1="110" y1="190" x2="127" y2="155" stroke="#ff00ff" stroke-width="1" />
<rect x="246.5" y="44.5" width="3" height="4" stroke="#ff00ff" fill="none" stroke-width="1" />
<line x1="236" y1="51.5" x2="249" y2="51.5" stroke="#ffffff" stroke-width="1" />
<line x1="242" y1="51.5" x2="249" y2="51.5" stroke="#ffbf00" stroke-width="1" />
<line x1="248.5" y1="51" x2="248.5" y2="56" stroke="#ffffff" stroke-width="1" />
<line x1="248.5" y1="186" x2="248.5" y2="195" stroke="#ffffff" stroke-width="1" />
<line x1="236" y1="194.5" x2="249" y2="194.5" stroke="#ffffff" stroke-width="1" />
<line x1="242" y1="194.5" x2="249" y2="194.5" stroke="#ffbf00" stroke-width="1" />
<rect x="247.5" y="198.5" width="3" height="3" stroke="#ff00ff" fill="none" stroke-width="1" />
<rect x="209.5" y="190.5" width="5" height="3" stroke="#ff00ff" fill="none" stroke-width="1" />
<line x1="214" y1="191" x2="222" y2="176" stroke="#ff00ff" stroke-width="1" />
<rect x="221" y="175" width="2" height="2" fill="#ff00ff"/>
<rect x="347.5" y="190.5" width="5" height="3" stroke="#ff00ff" fill="none" stroke-width="1" />
<line x1="352" y1="191" x2="384" y2="106" stroke="#ff00ff" stroke-width="1" />
<rect x="383" y="105" width="2" height="2" fill="#ff00ff"/>
<rect x="369.5" y="190.5" width="6" height="3" stroke="#ff00ff" fill="none" stroke-width="1" />
<line x1="375" y1="191" x2="388" y2="161" stroke="#ff00ff" stroke-width="1" />
<rect x="387" y="160" width="2" height="2" fill="#ff00ff"/>
<rect x="415.5" y="190.5" width="4" height="3" stroke="#ff00ff" fill="none" stroke-width="1" />
<line x1="419" y1="191" x2="429" y2="175" stroke="#ff00ff" stroke-width="1" />
<rect x="428" y="174" width="2" height="2" fill="#ff00ff"/>
<rect x="543.5" y="190.5" width="5" height="3" stroke="#ff00ff" fill="none" stroke-width="1" />
<line x1="548" y1="191" x2="560" y2="176" stroke="#ff00ff" stroke-width="1" />
<rect x="559" y="175" width="2" height="2" fill="#ff00ff"/>
<rect x="570.5" y="190.5" width="5" height="3" stroke="#ff00ff" fill="none" stroke-width="1" />
<line x1="575" y1="191" x2="600" y2="156" stroke="#ff00ff" stroke-width="1" />
<rect x="599" y="155" width="2" height="2" fill="#ff00ff"/>
<rect x="611.5" y="190.5" width="5" height="3" stroke="#ff00ff" fill="none" stroke-width="1" />
<line x1="616" y1="191" x2="644" y2="144" stroke="#ff00ff" stroke-width="1" />
<rect x="643" y="143" width="2" height="2" fill="#ff00ff"/>
<rect x="643.5" y="190.5" width="5" height="3" stroke="#ff00ff" fill="none" stroke-width="1" />
<line x1="648" y1="191" x2="686" y2="120" stroke="#ff00ff" stroke-width="1" />
<rect x="685" y="119" width="2" height="2" fill="#ff00ff"/>
<rect x="664.5" y="190.5" width="5" height="3" stroke="#ff00ff" fill="none" stroke-width="1" />
<line x1="669" y1="191" x2="697" y2="131" stroke="#ff00ff" stroke-width="1" />
<rect x="696" y="130" width="2" height="2" fill="#ff00ff"/>
<rect x="694.5" y="190.5" width="5" height="3" stroke="#ff00ff" fill="none" stroke-width="1" />
<line x1="699" y1="191" x2="710" y2="175" stroke="#ff00ff" stroke-width="1" />
<rect x="709" y="174" width="2" height="2" fill="#ff00ff"/>
<rect x="459.5" y="188.5" width="4" height="3" stroke="#ff00ff" fill="none" stroke-width="1" />
<rect x="463.5" y="188.5" width="4" height="3" stroke="#ff00ff" fill="none" stroke-width="1" />
<rect x="467.5" y="188.5" width="5" height="3" stroke="#ff00ff" fill="none" stroke-width="1" />
<line x1="472" y1="189" x2="494" y2="141" stroke="#ff00ff" stroke-width="1" />
<ellipse cx="495" cy="137" rx="9.5" ry="3.5" stroke="#ffbf00" fill="none"/>
<rect x="488.5" y="135.5" width="14" height="3" stroke="#ffffff" fill="none" stroke-width="1" />
<path d="M668,86 Q659,98 657,110 Q654,135 668,148 Q678,154 690,153 Q705,151 716,142" stroke="#ffbf00" fill="none" stroke-width="1" />
<circle cx="693.7" cy="118.3" r="8" stroke="#ffffff" fill="none" stroke-width="2" />
<circle cx="693.7" cy="118.3" r="2.5" stroke="#ffffff" fill="none" stroke-width="1" />
<path d="M681,111.5 A12.5,12.5 0 0 1 705,110.5" stroke="#ffffff" fill="none" stroke-width="1" />
<line x1="673" y1="118.5" x2="712" y2="118.5" stroke="#0000ff" stroke-width="1" stroke-dasharray="4 1 1 1"/>
<line x1="693.7" y1="100" x2="693.7" y2="135" stroke="#0000ff" stroke-width="1" stroke-dasharray="4 1 1 1"/>
<circle cx="699.5" cy="78.5" r="6.2" stroke="#ffffff" fill="none" stroke-width="1" />
<circle cx="699.5" cy="78.5" r="2.5" stroke="#ffffff" fill="none" stroke-width="1" />
<line x1="691" y1="78.5" x2="707" y2="78.5" stroke="#0000ff" stroke-width="1" stroke-dasharray="2 1"/>
<line x1="699.5" y1="63" x2="699.5" y2="90" stroke="#0000ff" stroke-width="1" stroke-dasharray="2 2"/>
<line x1="693.5" y1="87" x2="687" y2="109" stroke="#0000ff" stroke-width="1" stroke-dasharray="2 2"/>
<line x1="703" y1="87" x2="702" y2="111" stroke="#0000ff" stroke-width="1" stroke-dasharray="2 2"/>
<line x1="651" y1="90.5" x2="715" y2="90.5" stroke="#ffffff" stroke-width="1" />
<line x1="667" y1="103.5" x2="706" y2="103.5" stroke="#ffffff" stroke-width="1" />
<line x1="654" y1="112.5" x2="717" y2="112.5" stroke="#ffffff" stroke-width="1" />
<line x1="654" y1="126.5" x2="717" y2="126.5" stroke="#ffffff" stroke-width="1" />
<line x1="660" y1="122.5" x2="717" y2="122.5" stroke="#ffffff" stroke-width="1" />
<line x1="665.5" y1="112" x2="665.5" y2="127" stroke="#ffffff" stroke-width="1" />
<line x1="670.5" y1="112" x2="670.5" y2="127" stroke="#ffffff" stroke-width="1" />
<line x1="676.5" y1="112" x2="676.5" y2="127" stroke="#ffffff" stroke-width="1" />
<line x1="682.5" y1="112" x2="682.5" y2="127" stroke="#ffffff" stroke-width="1" />
<rect x="675" y="118" width="3" height="2" fill="#ffbf00"/>
<path d="M676,140 L700,135 L714,140" stroke="#ffffff" fill="none" stroke-width="1" />
<rect x="659.5" y="104.5" width="4" height="4" stroke="#0000ff" fill="none" stroke-width="1" />
<line x1="657" y1="108.5" x2="669" y2="108.5" stroke="#ffffff" stroke-width="1" />
<rect x="651" y="92" width="2" height="3" fill="#ffffff"/>
<rect x="651" y="98" width="2" height="3" fill="#ffffff"/>
<rect x="651" y="104" width="2" height="3" fill="#ffffff"/>
<rect x="651" y="110" width="2" height="3" fill="#ffffff"/>
<rect x="651" y="116" width="2" height="3" fill="#ffffff"/>
<rect x="651" y="122" width="2" height="3" fill="#ffffff"/>
<rect x="651" y="128" width="2" height="3" fill="#ffffff"/>
<rect x="651" y="134" width="2" height="3" fill="#ffffff"/>
<rect x="651" y="140" width="2" height="3" fill="#ffffff"/>
<rect x="651" y="146" width="2" height="3" fill="#ffffff"/>
<rect x="651" y="152" width="2" height="3" fill="#ffffff"/>
<rect x="651" y="158" width="2" height="3" fill="#ffffff"/>
<rect x="651" y="164" width="2" height="3" fill="#ffffff"/>
<rect x="651" y="170" width="2" height="3" fill="#ffffff"/>
<rect x="651" y="176" width="2" height="3" fill="#ffffff"/>
<line x1="647.5" y1="87" x2="647.5" y2="179" stroke="#ffffff" stroke-width="1" />
<rect x="669" y="130" width="1" height="2" fill="#ffffff"/>
<rect x="713" y="130" width="1" height="2" fill="#ffffff"/>
<rect x="669" y="135" width="1" height="2" fill="#ffffff"/>
<rect x="713" y="135" width="1" height="2" fill="#ffffff"/>
<rect x="669" y="140" width="1" height="2" fill="#ffffff"/>
<rect x="713" y="140" width="1" height="2" fill="#ffffff"/>
<rect x="669" y="145" width="1" height="2" fill="#ffffff"/>
<rect x="713" y="145" width="1" height="2" fill="#ffffff"/>
<rect x="669" y="150" width="1" height="2" fill="#ffffff"/>
<rect x="713" y="150" width="1" height="2" fill="#ffffff"/>
<rect x="669" y="155" width="1" height="2" fill="#ffffff"/>
<rect x="713" y="155" width="1" height="2" fill="#ffffff"/>
<rect x="669" y="160" width="1" height="2" fill="#ffffff"/>
<rect x="713" y="160" width="1" height="2" fill="#ffffff"/>
<rect x="669" y="165" width="1" height="2" fill="#ffffff"/>
<rect x="713" y="165" width="1" height="2" fill="#ffffff"/>
<rect x="669" y="170" width="1" height="2" fill="#ffffff"/>
<rect x="713" y="170" width="1" height="2" fill="#ffffff"/>
<rect x="652" y="176" width="2" height="1" fill="#ffffff"/>
<rect x="656" y="176" width="2" height="1" fill="#ffffff"/>
<rect x="660" y="176" width="2" height="1" fill="#ffffff"/>
<rect x="664" y="176" width="2" height="1" fill="#ffffff"/>
<rect x="668" y="176" width="2" height="1" fill="#ffffff"/>
<rect x="672" y="176" width="2" height="1" fill="#ffffff"/>
<rect x="676" y="176" width="2" height="1" fill="#ffffff"/>
<rect x="680" y="176" width="2" height="1" fill="#ffffff"/>
<rect x="684" y="176" width="2" height="1" fill="#ffffff"/>
<rect x="688" y="176" width="2" height="1" fill="#ffffff"/>
<rect x="692" y="176" width="2" height="1" fill="#ffffff"/>
<rect x="696" y="176" width="2" height="1" fill="#ffffff"/>
<rect x="700" y="176" width="2" height="1" fill="#ffffff"/>
<rect x="704" y="176" width="2" height="1" fill="#ffffff"/>
<rect x="708" y="176" width="2" height="1" fill="#ffffff"/>
<rect x="712" y="176" width="2" height="1" fill="#ffffff"/>
<rect x="709" y="83" width="3" height="3" fill="#ffffff"/>
<line x1="725.5" y1="86" x2="725.5" y2="187" stroke="#00ffff" stroke-width="1" />
<line x1="716" y1="86.5" x2="727" y2="86.5" stroke="#00ffff" stroke-width="1" />
<line x1="716" y1="186.5" x2="727" y2="186.5" stroke="#00ffff" stroke-width="1" />
<rect x="722.5" y="132.5" width="3" height="7" stroke="#00ffff" fill="none" stroke-width="1" />
<line x1="147" y1="241.5" x2="717" y2="241.5" stroke="#ffffff" stroke-width="1" />
<line x1="147" y1="242.5" x2="717" y2="242.5" stroke="#ffffff" stroke-width="1" />
<line x1="147" y1="290.5" x2="717" y2="290.5" stroke="#ffffff" stroke-width="1" />
<rect x="160" y="240" width="10" height="1" fill="#ffffff"/>
<rect x="165" y="239" width="4" height="1" fill="#ffffff"/>
<rect x="172" y="240" width="5" height="1" fill="#ffffff"/>
<rect x="179" y="240" width="1" height="1" fill="#ffffff"/>
<rect x="160" y="291" width="20" height="1" fill="#ffffff"/>
<rect x="163" y="292" width="8" height="1" fill="#ffffff"/>
<rect x="166" y="293" width="3" height="1" fill="#ffffff"/>
<rect x="172" y="292" width="4" height="1" fill="#ffffff"/>
<rect x="197" y="240" width="10" height="1" fill="#ffffff"/>
<rect x="202" y="239" width="4" height="1" fill="#ffffff"/>
<rect x="209" y="240" width="5" height="1" fill="#ffffff"/>
<rect x="216" y="240" width="1" height="1" fill="#ffffff"/>
<rect x="197" y="291" width="20" height="1" fill="#ffffff"/>
<rect x="200" y="292" width="8" height="1" fill="#ffffff"/>
<rect x="203" y="293" width="3" height="1" fill="#ffffff"/>
<rect x="209" y="292" width="4" height="1" fill="#ffffff"/>
<rect x="248" y="240" width="10" height="1" fill="#ffffff"/>
<rect x="253" y="239" width="4" height="1" fill="#ffffff"/>
<rect x="260" y="240" width="5" height="1" fill="#ffffff"/>
<rect x="267" y="240" width="1" height="1" fill="#ffffff"/>
<rect x="248" y="291" width="20" height="1" fill="#ffffff"/>
<rect x="251" y="292" width="8" height="1" fill="#ffffff"/>
<rect x="254" y="293" width="3" height="1" fill="#ffffff"/>
<rect x="260" y="292" width="4" height="1" fill="#ffffff"/>
<rect x="300" y="240" width="10" height="1" fill="#ffffff"/>
<rect x="305" y="239" width="4" height="1" fill="#ffffff"/>
<rect x="312" y="240" width="5" height="1" fill="#ffffff"/>
<rect x="319" y="240" width="1" height="1" fill="#ffffff"/>
<rect x="300" y="291" width="20" height="1" fill="#ffffff"/>
<rect x="303" y="292" width="8" height="1" fill="#ffffff"/>
<rect x="306" y="293" width="3" height="1" fill="#ffffff"/>
<rect x="312" y="292" width="4" height="1" fill="#ffffff"/>
<rect x="349" y="240" width="10" height="1" fill="#ffffff"/>
<rect x="354" y="239" width="4" height="1" fill="#ffffff"/>
<rect x="361" y="240" width="5" height="1" fill="#ffffff"/>
<rect x="368" y="240" width="1" height="1" fill="#ffffff"/>
<rect x="349" y="291" width="20" height="1" fill="#ffffff"/>
<rect x="352" y="292" width="8" height="1" fill="#ffffff"/>
<rect x="355" y="293" width="3" height="1" fill="#ffffff"/>
<rect x="361" y="292" width="4" height="1" fill="#ffffff"/>
<rect x="394" y="240" width="10" height="1" fill="#ffffff"/>
<rect x="399" y="239" width="4" height="1" fill="#ffffff"/>
<rect x="406" y="240" width="5" height="1" fill="#ffffff"/>
<rect x="413" y="240" width="1" height="1" fill="#ffffff"/>
<rect x="394" y="291" width="20" height="1" fill="#ffffff"/>
<rect x="397" y="292" width="8" height="1" fill="#ffffff"/>
<rect x="400" y="293" width="3" height="1" fill="#ffffff"/>
<rect x="406" y="292" width="4" height="1" fill="#ffffff"/>
<rect x="440" y="240" width="10" height="1" fill="#ffffff"/>
<rect x="445" y="239" width="4" height="1" fill="#ffffff"/>
<rect x="452" y="240" width="5" height="1" fill="#ffffff"/>
<rect x="459" y="240" width="1" height="1" fill="#ffffff"/>
<rect x="440" y="291" width="20" height="1" fill="#ffffff"/>
<rect x="443" y="292" width="8" height="1" fill="#ffffff"/>
<rect x="446" y="293" width="3" height="1" fill="#ffffff"/>
<rect x="452" y="292" width="4" height="1" fill="#ffffff"/>
<rect x="536" y="240" width="10" height="1" fill="#ffffff"/>
<rect x="541" y="239" width="4" height="1" fill="#ffffff"/>
<rect x="548" y="240" width="5" height="1" fill="#ffffff"/>
<rect x="555" y="240" width="1" height="1" fill="#ffffff"/>
<rect x="536" y="291" width="20" height="1" fill="#ffffff"/>
<rect x="539" y="292" width="8" height="1" fill="#ffffff"/>
<rect x="542" y="293" width="3" height="1" fill="#ffffff"/>
<rect x="548" y="292" width="4" height="1" fill="#ffffff"/>
<rect x="587" y="240" width="10" height="1" fill="#ffffff"/>
<rect x="592" y="239" width="4" height="1" fill="#ffffff"/>
<rect x="599" y="240" width="5" height="1" fill="#ffffff"/>
<rect x="606" y="240" width="1" height="1" fill="#ffffff"/>
<rect x="587" y="291" width="20" height="1" fill="#ffffff"/>
<rect x="590" y="292" width="8" height="1" fill="#ffffff"/>
<rect x="593" y="293" width="3" height="1" fill="#ffffff"/>
<rect x="599" y="292" width="4" height="1" fill="#ffffff"/>
<rect x="638" y="240" width="10" height="1" fill="#ffffff"/>
<rect x="643" y="239" width="4" height="1" fill="#ffffff"/>
<rect x="650" y="240" width="5" height="1" fill="#ffffff"/>
<rect x="657" y="240" width="1" height="1" fill="#ffffff"/>
<rect x="638" y="291" width="20" height="1" fill="#ffffff"/>
<rect x="641" y="292" width="8" height="1" fill="#ffffff"/>
<rect x="644" y="293" width="3" height="1" fill="#ffffff"/>
<rect x="650" y="292" width="4" height="1" fill="#ffffff"/>
<line x1="57" y1="241.5" x2="148" y2="241.5" stroke="#ffffff" stroke-width="1" />
<line x1="57" y1="290.5" x2="148" y2="290.5" stroke="#ffffff" stroke-width="1" />
<line x1="147.5" y1="241" x2="147.5" y2="291" stroke="#ffffff" stroke-width="1" />
<rect x="53.5" y="241.5" width="4" height="49" rx="2" stroke="#fff" fill="none"/>
<line x1="60.5" y1="241" x2="60.5" y2="291" stroke="#ffffff" stroke-width="1" />
<line x1="61" y1="247.5" x2="148" y2="247.5" stroke="#ffffff" stroke-width="1" />
<line x1="61" y1="286.5" x2="148" y2="286.5" stroke="#ffffff" stroke-width="1" />
<rect x="67.5" y="248.5" width="48" height="37" stroke="#ffffff" fill="none" stroke-width="1" />
<line x1="69" y1="249.5" x2="93" y2="249.5" stroke="#ffffff" stroke-width="1" />
<line x1="69" y1="284.5" x2="93" y2="284.5" stroke="#ffffff" stroke-width="1" />
<line x1="115.5" y1="244" x2="115.5" y2="289" stroke="#0000ff" stroke-width="1" stroke-dasharray="3 1"/>
<line x1="123.5" y1="244" x2="123.5" y2="289" stroke="#0000ff" stroke-width="1" stroke-dasharray="2 1"/>
<line x1="116.5" y1="247" x2="116.5" y2="287" stroke="#ffffff" stroke-width="1" />
<path d="M110.5,246 L110.5,242.5 L118.5,242.5 L118.5,246" stroke="#0000ff" fill="none" stroke-width="1" />
<path d="M110.5,285 L110.5,288.5 L118.5,288.5 L118.5,285" stroke="#0000ff" fill="none" stroke-width="1" />
<path d="M120.5,246 L120.5,242.5 L129.5,242.5 L129.5,246" stroke="#0000ff" fill="none" stroke-width="1" />
<path d="M120.5,285 L120.5,288.5 L129.5,288.5 L129.5,285" stroke="#0000ff" fill="none" stroke-width="1" />
<circle cx="132" cy="289" r="2.5" stroke="#0000ff" fill="none" stroke-width="1" />
<line x1="128" y1="289.5" x2="137" y2="289.5" stroke="#0000ff" stroke-width="1" />
<rect x="57" y="239" width="4" height="3" fill="#0000ff"/>
<rect x="57" y="290" width="4" height="3" fill="#0000ff"/>
<rect x="78.5" y="222.5" width="32" height="3" stroke="#ff00ff" fill="none" stroke-width="1" />
<line x1="110" y1="225" x2="120" y2="251" stroke="#ff00ff" stroke-width="1" />
<rect x="119" y="250" width="3" height="3" fill="#ffbf00"/>
<line x1="150" y1="243" x2="156" y2="249" stroke="#ffffff" stroke-width="2" />
<line x1="150" y1="289" x2="156" y2="283" stroke="#ffffff" stroke-width="2" />
<line x1="313.5" y1="241" x2="313.5" y2="291" stroke="#ffffff" stroke-width="1" />
<line x1="316" y1="244" x2="322" y2="250" stroke="#ffffff" stroke-width="2" />
<line x1="316" y1="288" x2="322" y2="282" stroke="#ffffff" stroke-width="2" />
<line x1="495.5" y1="241" x2="495.5" y2="291" stroke="#ffffff" stroke-width="1" />
<line x1="488" y1="250" x2="494" y2="244" stroke="#ffffff" stroke-width="2" />
<line x1="488" y1="284" x2="494" y2="290" stroke="#ffffff" stroke-width="2" />
<line x1="716.5" y1="238" x2="716.5" y2="292" stroke="#ffffff" stroke-width="1" />
<line x1="710" y1="246" x2="716" y2="240" stroke="#ffffff" stroke-width="2" />
<line x1="710" y1="286" x2="716" y2="292" stroke="#ffffff" stroke-width="2" />
<rect x="309" y="239" width="6" height="2" fill="#0000ff"/>
<rect x="309" y="290" width="6" height="2" fill="#0000ff"/>
<rect x="491" y="239" width="6" height="2" fill="#0000ff"/>
<rect x="491" y="290" width="6" height="2" fill="#0000ff"/>
<rect x="712" y="239" width="6" height="2" fill="#0000ff"/>
<rect x="712" y="290" width="6" height="2" fill="#0000ff"/>
<rect x="220.5" y="260.5" width="13" height="12" stroke="#ffffff" fill="none" stroke-width="1" />
<path d="M233.5,260.5 L239,254.5 L281,254.5 L287,260.5 M233.5,272.5 L239,278.5 L281,278.5 L287,272.5" stroke="#ffffff" fill="none" stroke-width="1" />
<line x1="239.5" y1="254" x2="239.5" y2="279" stroke="#ffffff" stroke-width="1" />
<line x1="281.5" y1="254" x2="281.5" y2="279" stroke="#ffffff" stroke-width="1" />
<line x1="287.5" y1="258" x2="287.5" y2="275" stroke="#0000ff" stroke-width="1" />
<rect x="288.5" y="260.5" width="15" height="12" stroke="#ffffff" fill="none" stroke-width="1" />
<rect x="295.5" y="272.5" width="7" height="12" stroke="#ffffff" fill="none" stroke-width="1" />
<line x1="298.5" y1="254" x2="298.5" y2="289" stroke="#0000ff" stroke-width="1" stroke-dasharray="4 1 1 1"/>
<rect x="391.5" y="260.5" width="13" height="12" stroke="#ffffff" fill="none" stroke-width="1" />
<path d="M404.5,260.5 L410,254.5 L452,254.5 L458,260.5 M404.5,272.5 L410,278.5 L452,278.5 L458,272.5" stroke="#ffffff" fill="none" stroke-width="1" />
<line x1="410.5" y1="254" x2="410.5" y2="279" stroke="#ffffff" stroke-width="1" />
<line x1="452.5" y1="254" x2="452.5" y2="279" stroke="#ffffff" stroke-width="1" />
<line x1="458.5" y1="258" x2="458.5" y2="275" stroke="#0000ff" stroke-width="1" />
<rect x="459.5" y="260.5" width="15" height="12" stroke="#ffffff" fill="none" stroke-width="1" />
<rect x="466.5" y="272.5" width="7" height="12" stroke="#ffffff" fill="none" stroke-width="1" />
<line x1="469.5" y1="254" x2="469.5" y2="289" stroke="#0000ff" stroke-width="1" stroke-dasharray="4 1 1 1"/>
<rect x="574.5" y="260.5" width="13" height="12" stroke="#ffffff" fill="none" stroke-width="1" />
<path d="M587.5,260.5 L593,254.5 L635,254.5 L641,260.5 M587.5,272.5 L593,278.5 L635,278.5 L641,272.5" stroke="#ffffff" fill="none" stroke-width="1" />
<line x1="593.5" y1="254" x2="593.5" y2="279" stroke="#ffffff" stroke-width="1" />
<line x1="635.5" y1="254" x2="635.5" y2="279" stroke="#ffffff" stroke-width="1" />
<line x1="641.5" y1="258" x2="641.5" y2="275" stroke="#0000ff" stroke-width="1" />
<rect x="642.5" y="260.5" width="15" height="12" stroke="#ffffff" fill="none" stroke-width="1" />
<rect x="649.5" y="272.5" width="7" height="12" stroke="#ffffff" fill="none" stroke-width="1" />
<line x1="652.5" y1="254" x2="652.5" y2="289" stroke="#0000ff" stroke-width="1" stroke-dasharray="4 1 1 1"/>
<path d="M187.5,258 L187.5,229 Q187.5,227.5 189,227.5 L194,227.5 Q195.5,227.5 195.5,229 L195.5,258" stroke="#ffffff" fill="none" stroke-width="1" />
<rect x="179.5" y="258.5" width="18" height="12" stroke="#ffffff" fill="none" stroke-width="1" />
<rect x="187.5" y="270.5" width="8" height="12" stroke="#ffffff" fill="none" stroke-width="1" />
<line x1="188" y1="280.5" x2="196" y2="280.5" stroke="#ffffff" stroke-width="1" />
<rect x="155.5" y="258.5" width="11" height="12" stroke="#ffffff" fill="none" stroke-width="1" />
<path d="M166.5,258.5 L172.5,252.5 L178.5,258.5 M166.5,270.5 L172.5,276.5 L178.5,270.5" stroke="#ffffff" fill="none" stroke-width="1" />
<line x1="172.5" y1="252" x2="172.5" y2="277" stroke="#ffffff" stroke-width="1" />
<line x1="178.5" y1="257" x2="178.5" y2="272" stroke="#0000ff" stroke-width="1" stroke-dasharray="2 2"/>
<line x1="191.5" y1="257" x2="191.5" y2="287" stroke="#0000ff" stroke-width="1" stroke-dasharray="4 1 1 1"/>
<rect x="244.5" y="222.5" width="4" height="3" stroke="#ff00ff" fill="none" stroke-width="1" />
<line x1="248" y1="225" x2="269" y2="261" stroke="#ff00ff" stroke-width="1" />
<rect x="263.5" y="222.5" width="4" height="3" stroke="#ff00ff" fill="none" stroke-width="1" />
<rect x="267.5" y="222.5" width="4" height="3" stroke="#ff00ff" fill="none" stroke-width="1" />
<line x1="271" y1="225" x2="294" y2="262" stroke="#ff00ff" stroke-width="1" />
<rect x="662.5" y="222.5" width="4" height="3" stroke="#ff00ff" fill="none" stroke-width="1" />
<rect x="666.5" y="222.5" width="4" height="3" stroke="#ff00ff" fill="none" stroke-width="1" />
<rect x="670.5" y="222.5" width="5" height="3" stroke="#ff00ff" fill="none" stroke-width="1" />
<line x1="675" y1="225" x2="700" y2="271" stroke="#ff00ff" stroke-width="1" />
<rect x="697" y="271" width="7" height="10" fill="#ffffff"/>
<rect x="695" y="281" width="11" height="7" fill="#ffffff"/>
<line x1="700.5" y1="270" x2="700.5" y2="298" stroke="#0000ff" stroke-width="1" stroke-dasharray="4 1"/>
<line x1="683" y1="293.5" x2="704" y2="293.5" stroke="#0000ff" stroke-width="1" stroke-dasharray="2 1"/>
<rect x="690" y="292" width="14" height="1" fill="#ffffff"/>
<rect x="711.5" y="238.5" width="5" height="4" stroke="#0000ff" fill="none" stroke-width="1" />
<line x1="58" y1="306.5" x2="717" y2="306.5" stroke="#00ffff" stroke-width="1" />
<line x1="58.5" y1="292" x2="58.5" y2="307" stroke="#00ffff" stroke-width="1" />
<line x1="716.5" y1="292" x2="716.5" y2="307" stroke="#00ffff" stroke-width="1" />
<rect x="393.5" y="302.5" width="9" height="4" stroke="#00ffff" fill="none" stroke-width="1" />
<path d="M628,314.5H737 M628,318.5H737 M628,322.5H737 M628,326.5H737 M628,330.5H737 M628,334.5H737 M628,339.5H737 M628,343.5H737 M628,347.5H737 M628,351.5H737 M628,355.5H737 M628,359.5H737 M628,363.5H737 M628,367.5H737 M628,371.5H737 M628,376.5H737 M628,380.5H737 M628,384.5H737 M628,388.5H737 M628,392.5H737 M628,396.5H737 M628,400.5H737 M628,404.5H737 M628,408.5H737 M628,412.5H737 M628,416.5H737 M628,421.5H737 M628,425.5H737 M628,429.5H737 M628,433.5H737 M628,437.5H737 M628,441.5H737 M628,445.5H737 M628,449.5H737 M628,453.5H737 M628,458.5H737 M628,462.5H737 M628,466.5H737 M628,470.5H737 M628,474.5H737 M628,478.5H737 M628,482.5H737 M628,486.5H737 M628,490.5H737 M628.5,314V492 M634.5,314V492 M659.5,314V492 M683.5,314V492 M684.5,314V492 M689.5,314V492 M706.5,314V492 M716.5,314V492 M727.5,314V492" stroke="#ffbf00" fill="none"/>
<path d="M637.5,315.5h13v2h-13z M665.5,315.5h11v2h-11z M728.5,315.5h6v2h-6z M629.5,315.5h2v2h-2z M637.5,319.5h13v2h-13z M665.5,319.5h5v2h-5z M629.5,319.5h2v2h-2z M637.5,323.5h13v2h-13z M665.5,323.5h9v2h-9z M629.5,323.5h2v2h-2z M686.5,323.5h2v2h-2z M637.5,327.5h9v2h-9z M665.5,327.5h11v2h-11z M629.5,327.5h2v2h-2z M637.5,331.5h13v2h-13z M665.5,331.5h5v2h-5z M728.5,331.5h6v2h-6z M637.5,335.5h11v3h-11z M665.5,335.5h9v3h-9z M690.5,335.5h6v3h-6z M629.5,335.5h2v3h-2z M686.5,335.5h2v3h-2z M637.5,340.5h7v2h-7z M728.5,340.5h4v2h-4z M629.5,340.5h2v2h-2z M686.5,340.5h2v2h-2z M637.5,344.5h12v2h-12z M665.5,344.5h9v2h-9z M629.5,344.5h2v2h-2z M686.5,344.5h2v2h-2z M637.5,348.5h12v2h-12z M665.5,348.5h5v2h-5z M690.5,348.5h11v2h-11z M728.5,348.5h4v2h-4z M629.5,348.5h2v2h-2z M637.5,352.5h9v2h-9z M665.5,352.5h6v2h-6z M629.5,352.5h2v2h-2z M686.5,352.5h2v2h-2z M637.5,356.5h9v2h-9z M665.5,356.5h11v2h-11z M629.5,356.5h2v2h-2z M637.5,360.5h12v2h-12z M629.5,360.5h2v2h-2z M686.5,360.5h2v2h-2z M637.5,364.5h6v2h-6z M665.5,364.5h7v2h-7z M629.5,364.5h2v2h-2z M686.5,364.5h2v2h-2z M637.5,368.5h6v2h-6z M665.5,368.5h7v2h-7z M728.5,368.5h6v2h-6z M629.5,368.5h2v2h-2z M665.5,372.5h6v3h-6z M728.5,372.5h6v3h-6z M629.5,372.5h2v3h-2z M686.5,372.5h2v3h-2z M637.5,377.5h9v2h-9z M665.5,377.5h8v2h-8z M629.5,377.5h2v2h-2z M686.5,377.5h2v2h-2z M637.5,381.5h10v2h-10z M665.5,381.5h10v2h-10z M629.5,381.5h2v2h-2z M637.5,385.5h7v2h-7z M665.5,385.5h8v2h-8z M629.5,385.5h2v2h-2z M686.5,385.5h2v2h-2z M665.5,389.5h5v2h-5z M690.5,389.5h9v2h-9z M629.5,389.5h2v2h-2z M686.5,389.5h2v2h-2z M637.5,393.5h8v2h-8z M665.5,393.5h6v2h-6z M629.5,393.5h2v2h-2z M637.5,397.5h8v2h-8z M665.5,397.5h5v2h-5z M629.5,397.5h2v2h-2z M686.5,397.5h2v2h-2z M637.5,401.5h7v2h-7z M665.5,401.5h10v2h-10z M728.5,401.5h4v2h-4z M629.5,401.5h2v2h-2z M637.5,405.5h8v2h-8z M665.5,405.5h7v2h-7z M629.5,405.5h2v2h-2z M637.5,409.5h6v2h-6z M665.5,409.5h9v2h-9z M690.5,409.5h11v2h-11z M629.5,409.5h2v2h-2z M637.5,413.5h7v2h-7z M629.5,413.5h2v2h-2z M637.5,417.5h13v3h-13z M665.5,417.5h9v3h-9z M690.5,417.5h12v3h-12z M629.5,417.5h2v3h-2z M686.5,417.5h2v3h-2z M637.5,422.5h7v2h-7z M665.5,422.5h9v2h-9z M629.5,422.5h2v2h-2z M686.5,422.5h2v2h-2z M637.5,426.5h9v2h-9z M665.5,426.5h11v2h-11z M629.5,426.5h2v2h-2z M637.5,430.5h10v2h-10z M665.5,430.5h8v2h-8z M629.5,430.5h2v2h-2z M686.5,430.5h2v2h-2z M637.5,434.5h11v2h-11z M665.5,434.5h6v2h-6z M629.5,434.5h2v2h-2z M665.5,438.5h6v2h-6z M690.5,438.5h9v2h-9z M728.5,438.5h4v2h-4z M629.5,438.5h2v2h-2z M686.5,438.5h2v2h-2z M637.5,442.5h11v2h-11z M665.5,442.5h11v2h-11z M629.5,442.5h2v2h-2z M686.5,442.5h2v2h-2z M665.5,446.5h10v2h-10z M690.5,446.5h8v2h-8z M728.5,446.5h6v2h-6z M629.5,446.5h2v2h-2z M686.5,446.5h2v2h-2z M637.5,450.5h6v2h-6z M665.5,450.5h7v2h-7z M690.5,450.5h7v2h-7z M686.5,450.5h2v2h-2z M637.5,454.5h11v3h-11z M728.5,454.5h5v3h-5z M629.5,454.5h2v3h-2z M637.5,459.5h6v2h-6z M665.5,459.5h7v2h-7z M629.5,459.5h2v2h-2z M665.5,463.5h11v2h-11z M629.5,463.5h2v2h-2z M637.5,467.5h8v2h-8z M665.5,467.5h6v2h-6z M629.5,467.5h2v2h-2z M665.5,471.5h7v2h-7z M629.5,471.5h2v2h-2z M665.5,475.5h10v2h-10z M690.5,475.5h7v2h-7z M637.5,479.5h11v2h-11z M665.5,479.5h10v2h-10z M728.5,479.5h4v2h-4z M629.5,479.5h2v2h-2z M686.5,479.5h2v2h-2z M637.5,483.5h10v2h-10z M665.5,483.5h5v2h-5z M690.5,483.5h12v2h-12z M728.5,483.5h4v2h-4z M629.5,483.5h2v2h-2z M686.5,483.5h2v2h-2z M637.5,487.5h8v2h-8z M665.5,487.5h9v2h-9z M629.5,487.5h2v2h-2z" stroke="#ffbf00" fill="none"/>
<line x1="628.5" y1="314" x2="628.5" y2="492" stroke="#ffffff" stroke-width="1" />
<line x1="628" y1="314.5" x2="737" y2="314.5" stroke="#ffffff" stroke-width="1" />
<rect x="640.5" y="487.5" width="14" height="3" stroke="#ffbf00" fill="none" stroke-width="1" />
<rect x="665.5" y="487.5" width="14" height="3" stroke="#ffbf00" fill="none" stroke-width="1" />
<rect x="693.5" y="487.5" width="9" height="3" stroke="#ffbf00" fill="none" stroke-width="1" />
<rect x="708.5" y="487.5" width="18" height="3" stroke="#ffbf00" fill="none" stroke-width="1" />
<rect x="729.5" y="487.5" width="6" height="3" stroke="#ffbf00" fill="none" stroke-width="1" />
<path d="M518,437.5H629 M518,441.5H629 M518,445.5H629 M518,449.5H629 M518,454.5H629 M518,458.5H629 M518,462.5H629 M518,466.5H629 M518,470.5H629 M518,474.5H629 M518,478.5H629 M518,483.5H629 M518,487.5H629 M518,491.5H629 M518,495.5H629 M518,499.5H629 M518,503.5H629 M518,508.5H629 M518,512.5H629 M518,516.5H629 M518,520.5H629 M518,524.5H629 M518.5,437V526 M523.5,437V526 M525.5,437V526 M550.5,437V526 M552.5,437V526 M575.5,437V526 M579.5,437V526 M597.5,437V526 M607.5,437V526 M618.5,437V526" stroke="#ffbf00" fill="none"/>
<path d="M531.5,438.5h12v2h-12z M582.5,438.5h9v2h-9z M520.5,438.5h2v2h-2z M531.5,442.5h9v2h-9z M555.5,442.5h12v2h-12z M520.5,442.5h2v2h-2z M531.5,446.5h12v2h-12z M555.5,446.5h12v2h-12z M582.5,446.5h12v2h-12z M520.5,446.5h2v2h-2z M576.5,446.5h2v2h-2z M531.5,450.5h12v3h-12z M555.5,450.5h9v3h-9z M582.5,450.5h8v3h-8z M520.5,450.5h2v3h-2z M531.5,455.5h11v2h-11z M555.5,455.5h7v2h-7z M582.5,455.5h12v2h-12z M520.5,455.5h2v2h-2z M531.5,459.5h9v2h-9z M555.5,459.5h7v2h-7z M582.5,459.5h14v2h-14z M520.5,459.5h2v2h-2z M531.5,463.5h11v2h-11z M555.5,463.5h8v2h-8z M582.5,463.5h14v2h-14z M520.5,463.5h2v2h-2z M576.5,463.5h2v2h-2z M531.5,467.5h10v2h-10z M555.5,467.5h8v2h-8z M582.5,467.5h11v2h-11z M620.5,467.5h6v2h-6z M520.5,467.5h2v2h-2z M531.5,471.5h13v2h-13z M555.5,471.5h10v2h-10z M620.5,471.5h6v2h-6z M520.5,471.5h2v2h-2z M531.5,475.5h9v2h-9z M620.5,475.5h4v2h-4z M520.5,475.5h2v2h-2z M531.5,479.5h9v3h-9z M520.5,479.5h2v3h-2z M531.5,484.5h9v2h-9z M555.5,484.5h7v2h-7z M620.5,484.5h4v2h-4z M520.5,484.5h2v2h-2z M576.5,484.5h2v2h-2z M531.5,488.5h11v2h-11z M555.5,488.5h9v2h-9z M520.5,488.5h2v2h-2z M531.5,492.5h8v2h-8z M555.5,492.5h11v2h-11z M520.5,492.5h2v2h-2z M531.5,496.5h10v2h-10z M555.5,496.5h11v2h-11z M520.5,496.5h2v2h-2z M576.5,496.5h2v2h-2z M531.5,500.5h12v2h-12z M555.5,500.5h10v2h-10z M620.5,500.5h4v2h-4z M520.5,500.5h2v2h-2z M582.5,504.5h8v3h-8z M620.5,504.5h6v3h-6z M520.5,504.5h2v3h-2z M531.5,509.5h11v2h-11z M555.5,509.5h8v2h-8z M520.5,509.5h2v2h-2z M531.5,513.5h9v2h-9z M555.5,513.5h8v2h-8z M520.5,513.5h2v2h-2z M576.5,513.5h2v2h-2z M531.5,517.5h8v2h-8z M555.5,517.5h6v2h-6z M520.5,517.5h2v2h-2z M531.5,521.5h12v2h-12z M555.5,521.5h10v2h-10z M520.5,521.5h2v2h-2z" stroke="#ffbf00" fill="none"/>
<line x1="518.5" y1="437" x2="518.5" y2="526" stroke="#ffffff" stroke-width="1" />
<line x1="518" y1="437.5" x2="629" y2="437.5" stroke="#ffffff" stroke-width="1" />
<rect x="628" y="491" width="109" height="2" fill="#0000ff"/>
<line x1="628" y1="491.5" x2="736" y2="491.5" stroke="#ffff00" stroke-width="1" stroke-dasharray="3 4"/>
<rect x="627" y="491" width="2" height="35" fill="#0000ff"/>
<rect x="629" y="494" width="49" height="5" fill="#ffffff"/>
<rect x="631" y="496" width="4" height="2" fill="#000"/>
<rect x="636" y="495" width="1" height="3" fill="#000"/>
<rect x="639" y="496" width="4" height="2" fill="#000"/>
<rect x="644" y="495" width="1" height="3" fill="#000"/>
<rect x="647" y="496" width="4" height="2" fill="#000"/>
<rect x="652" y="495" width="1" height="3" fill="#000"/>
<rect x="655" y="496" width="4" height="2" fill="#000"/>
<rect x="660" y="495" width="1" height="3" fill="#000"/>
<rect x="663" y="496" width="4" height="2" fill="#000"/>
<rect x="668" y="495" width="1" height="3" fill="#000"/>
<rect x="671" y="496" width="4" height="2" fill="#000"/>
<rect x="676" y="495" width="1" height="3" fill="#000"/>
<rect x="629" y="499" width="49" height="5" fill="#ffffff"/>
<rect x="631" y="501" width="4" height="2" fill="#000"/>
<rect x="636" y="500" width="1" height="3" fill="#000"/>
<rect x="639" y="501" width="4" height="2" fill="#000"/>
<rect x="644" y="500" width="1" height="3" fill="#000"/>
<rect x="647" y="501" width="4" height="2" fill="#000"/>
<rect x="652" y="500" width="1" height="3" fill="#000"/>
<rect x="655" y="501" width="4" height="2" fill="#000"/>
<rect x="660" y="500" width="1" height="3" fill="#000"/>
<rect x="663" y="501" width="4" height="2" fill="#000"/>
<rect x="668" y="500" width="1" height="3" fill="#000"/>
<rect x="671" y="501" width="4" height="2" fill="#000"/>
<rect x="676" y="500" width="1" height="3" fill="#000"/>
<rect x="629" y="504" width="49" height="6" fill="#ffffff"/>
<rect x="630" y="504" width="3" height="1" fill="#00ff00"/>
<rect x="633" y="505" width="3" height="1" fill="#ff00ff"/>
<rect x="631" y="506" width="3" height="1" fill="#000"/>
<rect x="630" y="508" width="2" height="1" fill="#00ff00"/>
<rect x="633" y="507" width="2" height="2" fill="#000"/>
<rect x="636" y="504" width="3" height="1" fill="#00ff00"/>
<rect x="639" y="505" width="3" height="1" fill="#ff00ff"/>
<rect x="637" y="506" width="3" height="1" fill="#000"/>
<rect x="636" y="508" width="2" height="1" fill="#00ff00"/>
<rect x="639" y="507" width="2" height="2" fill="#000"/>
<rect x="642" y="504" width="3" height="1" fill="#00ff00"/>
<rect x="645" y="505" width="3" height="1" fill="#ff00ff"/>
<rect x="643" y="506" width="3" height="1" fill="#000"/>
<rect x="642" y="508" width="2" height="1" fill="#00ff00"/>
<rect x="645" y="507" width="2" height="2" fill="#000"/>
<rect x="648" y="504" width="3" height="1" fill="#00ff00"/>
<rect x="651" y="505" width="3" height="1" fill="#ff00ff"/>
<rect x="649" y="506" width="3" height="1" fill="#000"/>
<rect x="648" y="508" width="2" height="1" fill="#00ff00"/>
<rect x="651" y="507" width="2" height="2" fill="#000"/>
<rect x="654" y="504" width="3" height="1" fill="#00ff00"/>
<rect x="657" y="505" width="3" height="1" fill="#ff00ff"/>
<rect x="655" y="506" width="3" height="1" fill="#000"/>
<rect x="654" y="508" width="2" height="1" fill="#00ff00"/>
<rect x="657" y="507" width="2" height="2" fill="#000"/>
<rect x="660" y="504" width="3" height="1" fill="#00ff00"/>
<rect x="663" y="505" width="3" height="1" fill="#ff00ff"/>
<rect x="661" y="506" width="3" height="1" fill="#000"/>
<rect x="660" y="508" width="2" height="1" fill="#00ff00"/>
<rect x="663" y="507" width="2" height="2" fill="#000"/>
<rect x="666" y="504" width="3" height="1" fill="#00ff00"/>
<rect x="669" y="505" width="3" height="1" fill="#ff00ff"/>
<rect x="667" y="506" width="3" height="1" fill="#000"/>
<rect x="666" y="508" width="2" height="1" fill="#00ff00"/>
<rect x="669" y="507" width="2" height="2" fill="#000"/>
<rect x="672" y="504" width="3" height="1" fill="#00ff00"/>
<rect x="675" y="505" width="3" height="1" fill="#ff00ff"/>
<rect x="673" y="506" width="3" height="1" fill="#000"/>
<rect x="672" y="508" width="2" height="1" fill="#00ff00"/>
<rect x="675" y="507" width="2" height="2" fill="#000"/>
<rect x="629" y="510" width="49" height="5" fill="#ffffff"/>
<rect x="631" y="512" width="4" height="2" fill="#000"/>
<rect x="636" y="511" width="1" height="3" fill="#000"/>
<rect x="639" y="512" width="4" height="2" fill="#000"/>
<rect x="644" y="511" width="1" height="3" fill="#000"/>
<rect x="647" y="512" width="4" height="2" fill="#000"/>
<rect x="652" y="511" width="1" height="3" fill="#000"/>
<rect x="655" y="512" width="4" height="2" fill="#000"/>
<rect x="660" y="511" width="1" height="3" fill="#000"/>
<rect x="663" y="512" width="4" height="2" fill="#000"/>
<rect x="668" y="511" width="1" height="3" fill="#000"/>
<rect x="671" y="512" width="4" height="2" fill="#000"/>
<rect x="676" y="511" width="1" height="3" fill="#000"/>
<rect x="629" y="515" width="49" height="5" fill="#ffffff"/>
<rect x="631" y="517" width="4" height="2" fill="#000"/>
<rect x="636" y="516" width="1" height="3" fill="#000"/>
<rect x="639" y="517" width="4" height="2" fill="#000"/>
<rect x="644" y="516" width="1" height="3" fill="#000"/>
<rect x="647" y="517" width="4" height="2" fill="#000"/>
<rect x="652" y="516" width="1" height="3" fill="#000"/>
<rect x="655" y="517" width="4" height="2" fill="#000"/>
<rect x="660" y="516" width="1" height="3" fill="#000"/>
<rect x="663" y="517" width="4" height="2" fill="#000"/>
<rect x="668" y="516" width="1" height="3" fill="#000"/>
<rect x="671" y="517" width="4" height="2" fill="#000"/>
<rect x="676" y="516" width="1" height="3" fill="#000"/>
<rect x="629" y="520" width="49" height="4" fill="#ffffff"/>
<rect x="631" y="522" width="4" height="1" fill="#000"/>
<rect x="636" y="521" width="1" height="2" fill="#000"/>
<rect x="639" y="522" width="4" height="1" fill="#000"/>
<rect x="644" y="521" width="1" height="2" fill="#000"/>
<rect x="647" y="522" width="4" height="1" fill="#000"/>
<rect x="652" y="521" width="1" height="2" fill="#000"/>
<rect x="655" y="522" width="4" height="1" fill="#000"/>
<rect x="660" y="521" width="1" height="2" fill="#000"/>
<rect x="663" y="522" width="4" height="1" fill="#000"/>
<rect x="668" y="521" width="1" height="2" fill="#000"/>
<rect x="671" y="522" width="4" height="1" fill="#000"/>
<rect x="676" y="521" width="1" height="2" fill="#000"/>
<rect x="629" y="524" width="49" height="2" fill="#ff00ff"/>
<rect x="631" y="522" width="1" height="2" fill="#00ff00"/>
<rect x="640" y="522" width="1" height="2" fill="#00ff00"/>
<rect x="649" y="522" width="1" height="2" fill="#00ff00"/>
<rect x="658" y="522" width="1" height="2" fill="#00ff00"/>
<rect x="667" y="522" width="1" height="2" fill="#00ff00"/>
<rect x="676" y="522" width="1" height="2" fill="#00ff00"/>
<rect x="626" y="510" width="2" height="4" fill="#ff0000"/>
<rect x="626" y="515" width="2" height="3" fill="#00ffff"/>
<rect x="638" y="508" width="5" height="2" fill="#0000ff"/>
<rect x="678" y="493" width="27" height="15" fill="#000"/>
<line x1="678.5" y1="493" x2="678.5" y2="509" stroke="#ffffff" stroke-width="1" />
<line x1="678" y1="508.5" x2="706" y2="508.5" stroke="#ffffff" stroke-width="1" />
<rect x="679" y="509" width="26" height="17" fill="#ffffff"/>
<rect x="679" y="511" width="26" height="4" fill="#ff00ff"/>
<rect x="680" y="516" width="2" height="5" fill="#000"/>
<rect x="684" y="516" width="2" height="5" fill="#000"/>
<rect x="688" y="516" width="2" height="5" fill="#000"/>
<rect x="692" y="516" width="2" height="5" fill="#000"/>
<rect x="696" y="516" width="2" height="5" fill="#000"/>
<rect x="700" y="516" width="2" height="5" fill="#000"/>
<rect x="679" y="521" width="26" height="2" fill="#00ff00"/>
<rect x="679" y="523" width="26" height="3" fill="#ff00ff"/>
<line x1="680" y1="512.5" x2="704" y2="512.5" stroke="#ffffff" stroke-width="1" stroke-dasharray="3 2"/>
<rect x="701" y="510" width="3" height="12" fill="#00ffff"/>
<rect x="702" y="512" width="1" height="8" fill="#000"/>
<rect x="706" y="494.5" width="31" height="7" rx="3" fill="#fff"/>
<rect x="710" y="497" width="23" height="2" fill="#000"/>
<line x1="709" y1="495.5" x2="734" y2="495.5" stroke="#000" stroke-width="1" stroke-dasharray="3 3"/>
<line x1="709" y1="500.5" x2="734" y2="500.5" stroke="#000" stroke-width="1" stroke-dasharray="3 3"/>
<rect x="705" y="502" width="31" height="3" fill="#ffffff"/>
<line x1="706" y1="503.5" x2="735" y2="503.5" stroke="#000" stroke-width="1" stroke-dasharray="3 3"/>
<rect x="706" y="506" width="36" height="7" fill="#ff0000"/>
<line x1="708" y1="507.5" x2="740" y2="507.5" stroke="#000" stroke-width="1" stroke-dasharray="3 3"/>
<line x1="708" y1="510.5" x2="740" y2="510.5" stroke="#000" stroke-width="1" stroke-dasharray="3 3"/>
<rect x="705" y="513" width="31" height="3" fill="#ffffff"/>
<line x1="706" y1="514.5" x2="735" y2="514.5" stroke="#000" stroke-width="1" stroke-dasharray="3 3"/>
<rect x="706" y="518" width="31" height="7" fill="#ff0000"/>
<line x1="708" y1="519.5" x2="735" y2="519.5" stroke="#000" stroke-width="1" stroke-dasharray="3 3"/>
<line x1="708" y1="522.5" x2="735" y2="522.5" stroke="#000" stroke-width="1" stroke-dasharray="3 3"/>
<line x1="705.5" y1="493" x2="705.5" y2="526" stroke="#00ffff" stroke-width="1" />
<rect x="742" y="506" width="2" height="7" fill="#00ffff"/>
<rect x="114.5" y="332.5" width="2" height="4" stroke="#ffffff" fill="none" stroke-width="1" />
<rect x="118.5" y="333.5" width="2" height="3" stroke="#ffffff" fill="none" stroke-width="1" />
<line x1="120.5" y1="333" x2="120.5" y2="339" stroke="#ffffff" stroke-width="1" />
<line x1="118" y1="338.5" x2="121" y2="338.5" stroke="#ffffff" stroke-width="1" />
<rect x="123.5" y="332.5" width="2" height="4" stroke="#ffffff" fill="none" stroke-width="1" />
<rect x="107" y="343" width="25" height="25" fill="#ffbf00"/>
<rect x="111" y="346" width="18" height="16" fill="#000"/>
<rect x="108" y="345" width="1" height="1" fill="#000"/>
<rect x="111" y="345" width="1" height="1" fill="#000"/>
<rect x="114" y="345" width="1" height="1" fill="#000"/>
<rect x="117" y="345" width="1" height="1" fill="#000"/>
<rect x="120" y="345" width="1" height="1" fill="#000"/>
<rect x="123" y="345" width="1" height="1" fill="#000"/>
<rect x="126" y="345" width="1" height="1" fill="#000"/>
<rect x="129" y="345" width="1" height="1" fill="#000"/>
<rect x="108" y="348" width="1" height="1" fill="#000"/>
<rect x="129" y="348" width="1" height="1" fill="#000"/>
<rect x="108" y="351" width="1" height="1" fill="#000"/>
<rect x="129" y="351" width="1" height="1" fill="#000"/>
<rect x="108" y="354" width="1" height="1" fill="#000"/>
<rect x="129" y="354" width="1" height="1" fill="#000"/>
<rect x="108" y="357" width="1" height="1" fill="#000"/>
<rect x="129" y="357" width="1" height="1" fill="#000"/>
<rect x="108" y="360" width="1" height="1" fill="#000"/>
<rect x="129" y="360" width="1" height="1" fill="#000"/>
<rect x="108" y="363" width="1" height="1" fill="#000"/>
<rect x="111" y="363" width="1" height="1" fill="#000"/>
<rect x="114" y="363" width="1" height="1" fill="#000"/>
<rect x="117" y="363" width="1" height="1" fill="#000"/>
<rect x="120" y="363" width="1" height="1" fill="#000"/>
<rect x="123" y="363" width="1" height="1" fill="#000"/>
<rect x="126" y="363" width="1" height="1" fill="#000"/>
<rect x="129" y="363" width="1" height="1" fill="#000"/>
<rect x="108" y="366" width="1" height="1" fill="#000"/>
<rect x="111" y="366" width="1" height="1" fill="#000"/>
<rect x="114" y="366" width="1" height="1" fill="#000"/>
<rect x="117" y="366" width="1" height="1" fill="#000"/>
<rect x="120" y="366" width="1" height="1" fill="#000"/>
<rect x="123" y="366" width="1" height="1" fill="#000"/>
<rect x="126" y="366" width="1" height="1" fill="#000"/>
<rect x="129" y="366" width="1" height="1" fill="#000"/>
<line x1="104" y1="349.5" x2="135" y2="349.5" stroke="#0000ff" stroke-width="1" stroke-dasharray="5 1 1 1"/>
<line x1="104" y1="355.5" x2="135" y2="355.5" stroke="#0000ff" stroke-width="1" stroke-dasharray="5 1 1 1"/>
<line x1="104" y1="361.5" x2="135" y2="361.5" stroke="#0000ff" stroke-width="1" stroke-dasharray="5 1 1 1"/>
<rect x="95" y="368" width="49" height="4" fill="#ffbf00"/>
<rect x="96" y="369" width="2" height="1" fill="#000"/>
<rect x="97" y="370" width="1" height="1" fill="#000"/>
<rect x="99" y="369" width="2" height="1" fill="#000"/>
<rect x="100" y="370" width="1" height="1" fill="#000"/>
<rect x="102" y="369" width="2" height="1" fill="#000"/>
<rect x="103" y="370" width="1" height="1" fill="#000"/>
<rect x="105" y="369" width="2" height="1" fill="#000"/>
<rect x="106" y="370" width="1" height="1" fill="#000"/>
<rect x="108" y="369" width="2" height="1" fill="#000"/>
<rect x="109" y="370" width="1" height="1" fill="#000"/>
<rect x="111" y="369" width="2" height="1" fill="#000"/>
<rect x="112" y="370" width="1" height="1" fill="#000"/>
<rect x="114" y="369" width="2" height="1" fill="#000"/>
<rect x="115" y="370" width="1" height="1" fill="#000"/>
<rect x="117" y="369" width="2" height="1" fill="#000"/>
<rect x="118" y="370" width="1" height="1" fill="#000"/>
<rect x="120" y="369" width="2" height="1" fill="#000"/>
<rect x="121" y="370" width="1" height="1" fill="#000"/>
<rect x="123" y="369" width="2" height="1" fill="#000"/>
<rect x="124" y="370" width="1" height="1" fill="#000"/>
<rect x="126" y="369" width="2" height="1" fill="#000"/>
<rect x="127" y="370" width="1" height="1" fill="#000"/>
<rect x="129" y="369" width="2" height="1" fill="#000"/>
<rect x="130" y="370" width="1" height="1" fill="#000"/>
<rect x="132" y="369" width="2" height="1" fill="#000"/>
<rect x="133" y="370" width="1" height="1" fill="#000"/>
<rect x="135" y="369" width="2" height="1" fill="#000"/>
<rect x="136" y="370" width="1" height="1" fill="#000"/>
<rect x="138" y="369" width="2" height="1" fill="#000"/>
<rect x="139" y="370" width="1" height="1" fill="#000"/>
<rect x="141" y="369" width="2" height="1" fill="#000"/>
<rect x="142" y="370" width="1" height="1" fill="#000"/>
<path d="M100,372 L107,373 L112,376 L128,376 L135,373 L141,372" stroke="#ffffff" fill="none" stroke-width="1" />
<rect x="99" y="366" width="3" height="2" fill="#ffffff"/>
<rect x="140" y="366" width="3" height="2" fill="#ffffff"/>
<rect x="119" y="376" width="1" height="1" fill="#0000ff"/>
<line x1="95.5" y1="372" x2="95.5" y2="469" stroke="#ffbf00" stroke-width="1" />
<line x1="96.5" y1="372" x2="96.5" y2="469" stroke="#ffbf00" stroke-width="1" />
<line x1="98.5" y1="372" x2="98.5" y2="469" stroke="#ffffff" stroke-width="1" />
<line x1="143.5" y1="372" x2="143.5" y2="441" stroke="#ffbf00" stroke-width="1" />
<line x1="144.5" y1="372" x2="144.5" y2="441" stroke="#ffbf00" stroke-width="1" />
<line x1="141.5" y1="372" x2="141.5" y2="469" stroke="#ffffff" stroke-width="1" />
<line x1="143.5" y1="440" x2="143.5" y2="469" stroke="#ffffff" stroke-width="1" />
<line x1="98" y1="378.5" x2="142" y2="378.5" stroke="#ffffff" stroke-width="1" />
<line x1="98" y1="384.5" x2="142" y2="384.5" stroke="#ffffff" stroke-width="1" />
<line x1="103" y1="386.5" x2="136" y2="386.5" stroke="#ffbf00" stroke-width="1" />
<line x1="103" y1="387.5" x2="136" y2="387.5" stroke="#ffbf00" stroke-width="1" />
<line x1="98" y1="390.5" x2="142" y2="390.5" stroke="#ffffff" stroke-width="1" />
<line x1="95" y1="392.5" x2="145" y2="392.5" stroke="#ffbf00" stroke-width="1" />
<line x1="95" y1="393.5" x2="145" y2="393.5" stroke="#ffbf00" stroke-width="1" />
<line x1="98" y1="395.5" x2="142" y2="395.5" stroke="#ffffff" stroke-width="1" />
<line x1="95" y1="456.5" x2="145" y2="456.5" stroke="#ffbf00" stroke-width="1" />
<line x1="95" y1="457.5" x2="145" y2="457.5" stroke="#ffbf00" stroke-width="1" />
<line x1="98" y1="459.5" x2="142" y2="459.5" stroke="#ffffff" stroke-width="1" />
<path d="M95,468 L95,472 L99,472 L99,466" stroke="#ffffff" fill="none" stroke-width="1" />
<path d="M141,466 L141,472 L145,472 L145,468" stroke="#ffffff" fill="none" stroke-width="1" />
<rect x="94" y="466" width="2" height="4" fill="#0000ff"/>
<rect x="145" y="466" width="2" height="4" fill="#0000ff"/>
<path d="M133,353.5 L158.5,353.5 L158.5,438.5 L146,438.5 M150.5,361.5 L150.5,431 L146,431" stroke="#ffffff" fill="none" stroke-width="1" />
<line x1="134" y1="361.5" x2="151" y2="361.5" stroke="#ffffff" stroke-width="1" />
<rect x="144" y="429" width="2" height="12" fill="#0000ff"/>
<line x1="93" y1="472.5" x2="148" y2="472.5" stroke="#00ffff" stroke-width="1" />
<line x1="93.5" y1="469" x2="93.5" y2="476" stroke="#00ffff" stroke-width="1" />
<line x1="147.5" y1="469" x2="147.5" y2="476" stroke="#00ffff" stroke-width="1" />
<rect x="114.5" y="469.5" width="6" height="3" stroke="#00ffff" fill="none" stroke-width="1" />
<rect x="82.5" y="341.5" width="3" height="3" stroke="#ff00ff" fill="none" stroke-width="1" />
<line x1="85" y1="344" x2="106" y2="362" stroke="#ff00ff" stroke-width="1" />
<rect x="82.5" y="359.5" width="3" height="3" stroke="#ff00ff" fill="none" stroke-width="1" />
<line x1="85" y1="362" x2="97" y2="375" stroke="#ff00ff" stroke-width="1" />
<rect x="82.5" y="366.5" width="3" height="3" stroke="#ff00ff" fill="none" stroke-width="1" />
<line x1="85" y1="369" x2="98" y2="387" stroke="#ff00ff" stroke-width="1" />
<rect x="81.5" y="376.5" width="3" height="3" stroke="#ff00ff" fill="none" stroke-width="1" />
<line x1="84" y1="379" x2="103" y2="394" stroke="#ff00ff" stroke-width="1" />
<rect x="140.5" y="340.5" width="3" height="3" stroke="#ff00ff" fill="none" stroke-width="1" />
<line x1="143" y1="343" x2="152" y2="356" stroke="#ff00ff" stroke-width="1" />
<rect x="82.5" y="411.5" width="3" height="3" stroke="#ff00ff" fill="none" stroke-width="1" />
<line x1="85" y1="414" x2="112" y2="456" stroke="#ff00ff" stroke-width="1" />
<rect x="82.5" y="439.5" width="3" height="3" stroke="#ff00ff" fill="none" stroke-width="1" />
<line x1="85" y1="442" x2="97" y2="456" stroke="#ff00ff" stroke-width="1" />
<rect x="82.5" y="361.5" width="3" height="5" stroke="#ff00ff" fill="none" stroke-width="1" />
<rect x="205.5" y="341.5" width="4" height="3" stroke="#ff00ff" fill="none" stroke-width="1" />
<rect x="205.5" y="344.5" width="4" height="3" stroke="#ff00ff" fill="none" stroke-width="1" />
<rect x="205.5" y="347.5" width="4" height="3" stroke="#ff00ff" fill="none" stroke-width="1" />
<line x1="209" y1="344" x2="224" y2="372" stroke="#ff00ff" stroke-width="1" />
<rect x="225.5" y="332.5" width="4" height="2" stroke="#ff00ff" fill="none" stroke-width="1" />
<line x1="221" y1="336.5" x2="232" y2="336.5" stroke="#ff00ff" stroke-width="1" />
<rect x="225.5" y="338.5" width="4" height="2" stroke="#ff00ff" fill="none" stroke-width="1" />
<rect x="265.5" y="342.5" width="3" height="3" stroke="#ff00ff" fill="none" stroke-width="1" />
<rect x="216.5" y="364.5" width="14" height="17" stroke="#ffffff" fill="none" stroke-width="1" />
<line x1="216" y1="369.5" x2="231" y2="369.5" stroke="#ffffff" stroke-width="1" />
<line x1="216" y1="377.5" x2="231" y2="377.5" stroke="#ffffff" stroke-width="1" />
<rect x="231" y="365" width="9" height="7" fill="#ffbf00"/>
<rect x="231" y="375" width="9" height="6" fill="#ffbf00"/>
<rect x="232" y="366" width="1" height="1" fill="#000"/>
<rect x="234" y="366" width="1" height="1" fill="#000"/>
<rect x="236" y="366" width="1" height="1" fill="#000"/>
<rect x="238" y="366" width="1" height="1" fill="#000"/>
<rect x="232" y="368" width="1" height="1" fill="#000"/>
<rect x="234" y="368" width="1" height="1" fill="#000"/>
<rect x="236" y="368" width="1" height="1" fill="#000"/>
<rect x="238" y="368" width="1" height="1" fill="#000"/>
<rect x="232" y="370" width="1" height="1" fill="#000"/>
<rect x="234" y="370" width="1" height="1" fill="#000"/>
<rect x="236" y="370" width="1" height="1" fill="#000"/>
<rect x="238" y="370" width="1" height="1" fill="#000"/>
<rect x="232" y="372" width="1" height="1" fill="#000"/>
<rect x="234" y="372" width="1" height="1" fill="#000"/>
<rect x="236" y="372" width="1" height="1" fill="#000"/>
<rect x="238" y="372" width="1" height="1" fill="#000"/>
<rect x="232" y="374" width="1" height="1" fill="#000"/>
<rect x="234" y="374" width="1" height="1" fill="#000"/>
<rect x="236" y="374" width="1" height="1" fill="#000"/>
<rect x="238" y="374" width="1" height="1" fill="#000"/>
<rect x="232" y="376" width="1" height="1" fill="#000"/>
<rect x="234" y="376" width="1" height="1" fill="#000"/>
<rect x="236" y="376" width="1" height="1" fill="#000"/>
<rect x="238" y="376" width="1" height="1" fill="#000"/>
<rect x="232" y="378" width="1" height="1" fill="#000"/>
<rect x="234" y="378" width="1" height="1" fill="#000"/>
<rect x="236" y="378" width="1" height="1" fill="#000"/>
<rect x="238" y="378" width="1" height="1" fill="#000"/>
<rect x="232" y="380" width="1" height="1" fill="#000"/>
<rect x="234" y="380" width="1" height="1" fill="#000"/>
<rect x="236" y="380" width="1" height="1" fill="#000"/>
<rect x="238" y="380" width="1" height="1" fill="#000"/>
<path d="M243,365 Q246,372 243,381 L246,380" stroke="#ffbf00" fill="none" stroke-width="1" />
<line x1="215.5" y1="369" x2="215.5" y2="378" stroke="#ffffff" stroke-width="1" />
<rect x="212" y="368" width="4" height="3" fill="#ffffff"/>
<rect x="212" y="375" width="4" height="3" fill="#ffffff"/>
<line x1="210" y1="372.5" x2="244" y2="372.5" stroke="#0000ff" stroke-width="1" stroke-dasharray="5 1 1 1"/>
<line x1="240" y1="379.5" x2="247" y2="379.5" stroke="#ffffff" stroke-width="1" />
<path d="M216,381 Q222,384 228,382 Q234,380 240,380" stroke="#ffbf00" fill="none" stroke-width="1" />
<line x1="216.5" y1="381" x2="216.5" y2="387" stroke="#ffffff" stroke-width="1" />
<line x1="230.5" y1="381" x2="230.5" y2="387" stroke="#ffffff" stroke-width="1" />
<rect x="265.5" y="340.5" width="3" height="3" stroke="#ff00ff" fill="none" stroke-width="1" />
<rect x="285.5" y="340.5" width="5" height="3" stroke="#ff00ff" fill="none" stroke-width="1" />
<rect x="357.5" y="339.5" width="4" height="4" stroke="#ff00ff" fill="none" stroke-width="1" />
<rect x="357.5" y="344.5" width="4" height="4" stroke="#ff00ff" fill="none" stroke-width="1" />
<rect x="421.5" y="340.5" width="3" height="3" stroke="#ff00ff" fill="none" stroke-width="1" />
<line x1="268" y1="343" x2="294" y2="376" stroke="#ff00ff" stroke-width="1" />
<line x1="290" y1="343" x2="319" y2="378" stroke="#ff00ff" stroke-width="1" />
<line x1="359" y1="348" x2="329" y2="378" stroke="#ff00ff" stroke-width="1" />
<line x1="422" y1="343" x2="395" y2="376" stroke="#ff00ff" stroke-width="1" />
<rect x="327.5" y="332.5" width="4" height="3" stroke="#ff00ff" fill="none" stroke-width="1" />
<line x1="324" y1="336.5" x2="335" y2="336.5" stroke="#ff00ff" stroke-width="1" />
<rect x="327.5" y="338.5" width="4" height="3" stroke="#ff00ff" fill="none" stroke-width="1" />
<line x1="279" y1="356.5" x2="399" y2="356.5" stroke="#ffffff" stroke-width="1" />
<line x1="279" y1="401.5" x2="399" y2="401.5" stroke="#ffffff" stroke-width="1" />
<line x1="287" y1="358.5" x2="316" y2="358.5" stroke="#00ff00" stroke-width="1" stroke-dasharray="3 2"/>
<line x1="287" y1="398.5" x2="316" y2="398.5" stroke="#00ff00" stroke-width="1" stroke-dasharray="3 2"/>
<circle cx="294" cy="378.5" r="14.5" stroke="#ffffff" fill="none" stroke-width="1" />
<circle cx="294" cy="378.5" r="12.5" stroke="#ffffff" fill="none" stroke-width="1" />
<path d="M289,373 L299,373 L302,378.5 L299,384 L289,384 L286,378.5 Z" stroke="#ffffff" fill="none" stroke-width="1" />
<line x1="275" y1="378.5" x2="400" y2="378.5" stroke="#0000ff" stroke-width="1" stroke-dasharray="6 1 1 1"/>
<line x1="294" y1="362" x2="294" y2="395" stroke="#0000ff" stroke-width="1" stroke-dasharray="5 1 1 1"/>
<line x1="315.5" y1="356" x2="315.5" y2="402" stroke="#ffffff" stroke-width="1" />
<path d="M315,368 L322,368 L322,373 L327,373 L327,384 L322,384 L322,389 L315,389" stroke="#ffffff" fill="none" stroke-width="1" />
<rect x="318.5" y="375.5" width="8" height="7" stroke="#ffffff" fill="none" stroke-width="1" />
<rect x="321" y="375" width="5" height="7" fill="#ffbf00"/>
<rect x="323.5" y="376.5" width="75" height="5" stroke="#ffbf00" fill="none" stroke-width="1" />
<line x1="326" y1="378.5" x2="398" y2="378.5" stroke="#ffffff" stroke-width="1" />
<ellipse cx="356" cy="379" rx="8" ry="5.5" stroke="#ffbf00" fill="none"/>
<rect x="363" y="374" width="3" height="9" fill="#ff00ff"/>
<rect x="366" y="375" width="4" height="7" fill="#ffffff"/>
<rect x="367" y="377" width="2" height="1" fill="#000"/>
<line x1="348.5" y1="356" x2="348.5" y2="402" stroke="#ffffff" stroke-width="1" />
<line x1="363.5" y1="356" x2="363.5" y2="402" stroke="#ffffff" stroke-width="1" />
<path d="M371,356 Q376,378.5 371,401" stroke="#ffffff" fill="none" stroke-width="1" />
<line x1="374.5" y1="362" x2="374.5" y2="396" stroke="#ffffff" stroke-width="1" />
<rect x="455.5" y="332.5" width="4" height="2" stroke="#ff00ff" fill="none" stroke-width="1" />
<line x1="451" y1="336.5" x2="463" y2="336.5" stroke="#ff00ff" stroke-width="1" />
<rect x="455.5" y="338.5" width="4" height="2" stroke="#ff00ff" fill="none" stroke-width="1" />
<line x1="444" y1="363.5" x2="472" y2="363.5" stroke="#ffffff" stroke-width="1" />
<line x1="444" y1="372.5" x2="472" y2="372.5" stroke="#ffffff" stroke-width="1" />
<ellipse cx="456" cy="367.5" rx="5" ry="8" stroke="#fff" fill="none"/>
<line x1="456.5" y1="358" x2="456.5" y2="379" stroke="#0000ff" stroke-width="1" stroke-dasharray="4 1"/>
<path d="M451,363 L447,368 L451,372 M462,363 L467,368 L462,372" stroke="#ffbf00" fill="none" stroke-width="1" />
<rect x="532.5" y="332.5" width="4" height="2" stroke="#ff00ff" fill="none" stroke-width="1" />
<line x1="529" y1="336.5" x2="539" y2="336.5" stroke="#ff00ff" stroke-width="1" />
<rect x="532.5" y="338.5" width="4" height="2" stroke="#ff00ff" fill="none" stroke-width="1" />
<rect x="519.5" y="340.5" width="5" height="3" stroke="#ff00ff" fill="none" stroke-width="1" />
<rect x="519.5" y="344.5" width="5" height="3" stroke="#ff00ff" fill="none" stroke-width="1" />
<rect x="519.5" y="348.5" width="5" height="3" stroke="#ff00ff" fill="none" stroke-width="1" />
<line x1="524.5" y1="345.5" x2="537" y2="365" stroke="#ff00ff" stroke-width="1" />
<rect x="536" y="364" width="2" height="24" fill="#ffffff"/>
<line x1="539" y1="367.5" x2="545" y2="367.5" stroke="#ffffff" stroke-width="1" />
<rect x="530" y="382" width="8" height="3" fill="#ffffff"/>
<rect x="538" y="381" width="11" height="3" fill="#ffffff"/>
<line x1="538.5" y1="364" x2="538.5" y2="384" stroke="#0000ff" stroke-width="1" stroke-dasharray="6 1"/>
<rect x="538" y="369" width="2" height="3" fill="#ffbf00"/>
<path d="M537,388 L540,390 L543,390" stroke="#ffffff" fill="none" stroke-width="1" />
<rect x="334" y="471" width="3" height="4" fill="#ffbf00"/>
<rect x="335" y="470" width="2" height="1" fill="#ffbf00"/>
<rect x="337" y="472" width="1" height="2" fill="#ffbf00"/>
<rect x="335" y="472" width="1" height="1" fill="#000"/>
<rect x="339" y="471" width="3" height="4" fill="#ffbf00"/>
<rect x="340" y="470" width="2" height="1" fill="#ffbf00"/>
<rect x="342" y="472" width="1" height="2" fill="#ffbf00"/>
<rect x="340" y="472" width="1" height="1" fill="#000"/>
<rect x="344" y="471" width="3" height="4" fill="#ffbf00"/>
<rect x="345" y="470" width="2" height="1" fill="#ffbf00"/>
<rect x="347" y="472" width="1" height="2" fill="#ffbf00"/>
<rect x="345" y="472" width="1" height="1" fill="#000"/>
<rect x="349" y="471" width="3" height="4" fill="#ffbf00"/>
<rect x="350" y="470" width="2" height="1" fill="#ffbf00"/>
<rect x="352" y="472" width="1" height="2" fill="#ffbf00"/>
<rect x="350" y="472" width="1" height="1" fill="#000"/>
<rect x="334" y="477" width="1" height="5" fill="#ffbf00"/>
<rect x="337" y="477" width="1" height="5" fill="#ffbf00"/>
<rect x="338" y="477" width="1" height="5" fill="#ffbf00"/>
<rect x="341" y="477" width="1" height="5" fill="#ffbf00"/>
<rect x="344" y="477" width="1" height="5" fill="#ffbf00"/>
<rect x="348" y="477" width="1" height="5" fill="#ffbf00"/>
<rect x="353" y="477" width="1" height="5" fill="#ffbf00"/>
<rect x="356" y="477" width="1" height="5" fill="#ffbf00"/>
<rect x="360" y="477" width="1" height="5" fill="#ffbf00"/>
<rect x="363" y="477" width="1" height="5" fill="#ffbf00"/>
<rect x="367" y="477" width="1" height="5" fill="#ffbf00"/>
<rect x="370" y="477" width="1" height="5" fill="#ffbf00"/>
<rect x="374" y="477" width="1" height="5" fill="#ffbf00"/>
<rect x="377" y="477" width="1" height="5" fill="#ffbf00"/>
<rect x="381" y="477" width="1" height="5" fill="#ffbf00"/>
<rect x="384" y="477" width="1" height="5" fill="#ffbf00"/>
<rect x="388" y="477" width="1" height="5" fill="#ffbf00"/>
<rect x="391" y="477" width="1" height="5" fill="#ffbf00"/>
<rect x="394" y="477" width="1" height="5" fill="#ffbf00"/>
<rect x="334" y="487" width="1" height="12" fill="#ffbf00"/>
<rect x="338" y="483" width="1" height="16" fill="#ffbf00"/>
<rect x="341" y="483" width="1" height="16" fill="#ffbf00"/>
<rect x="345" y="483" width="1" height="16" fill="#ffbf00"/>
<rect x="348" y="483" width="1" height="16" fill="#ffbf00"/>
<rect x="351" y="483" width="1" height="16" fill="#ffbf00"/>
<rect x="355" y="483" width="1" height="16" fill="#ffbf00"/>
<rect x="358" y="488" width="1" height="11" fill="#ffbf00"/>
<rect x="362" y="488" width="1" height="11" fill="#ffbf00"/>
<rect x="365" y="488" width="1" height="11" fill="#ffbf00"/>
<rect x="369" y="488" width="1" height="11" fill="#ffbf00"/>
<rect x="372" y="488" width="1" height="11" fill="#ffbf00"/>
<rect x="376" y="488" width="1" height="11" fill="#ffbf00"/>
<rect x="379" y="488" width="1" height="11" fill="#ffbf00"/>
<rect x="382" y="488" width="1" height="11" fill="#ffbf00"/>
<rect x="386" y="488" width="1" height="5" fill="#ffbf00"/>
<rect x="389" y="488" width="1" height="5" fill="#ffbf00"/>
<rect x="393" y="488" width="1" height="5" fill="#ffbf00"/>
<rect x="396" y="488" width="1" height="6" fill="#ffbf00"/>
<rect x="344" y="481" width="2" height="3" fill="#ffbf00"/>
<rect x="351" y="481" width="2" height="3" fill="#ffbf00"/>
<rect x="358" y="481" width="2" height="3" fill="#ffbf00"/>
</svg></body></html>
